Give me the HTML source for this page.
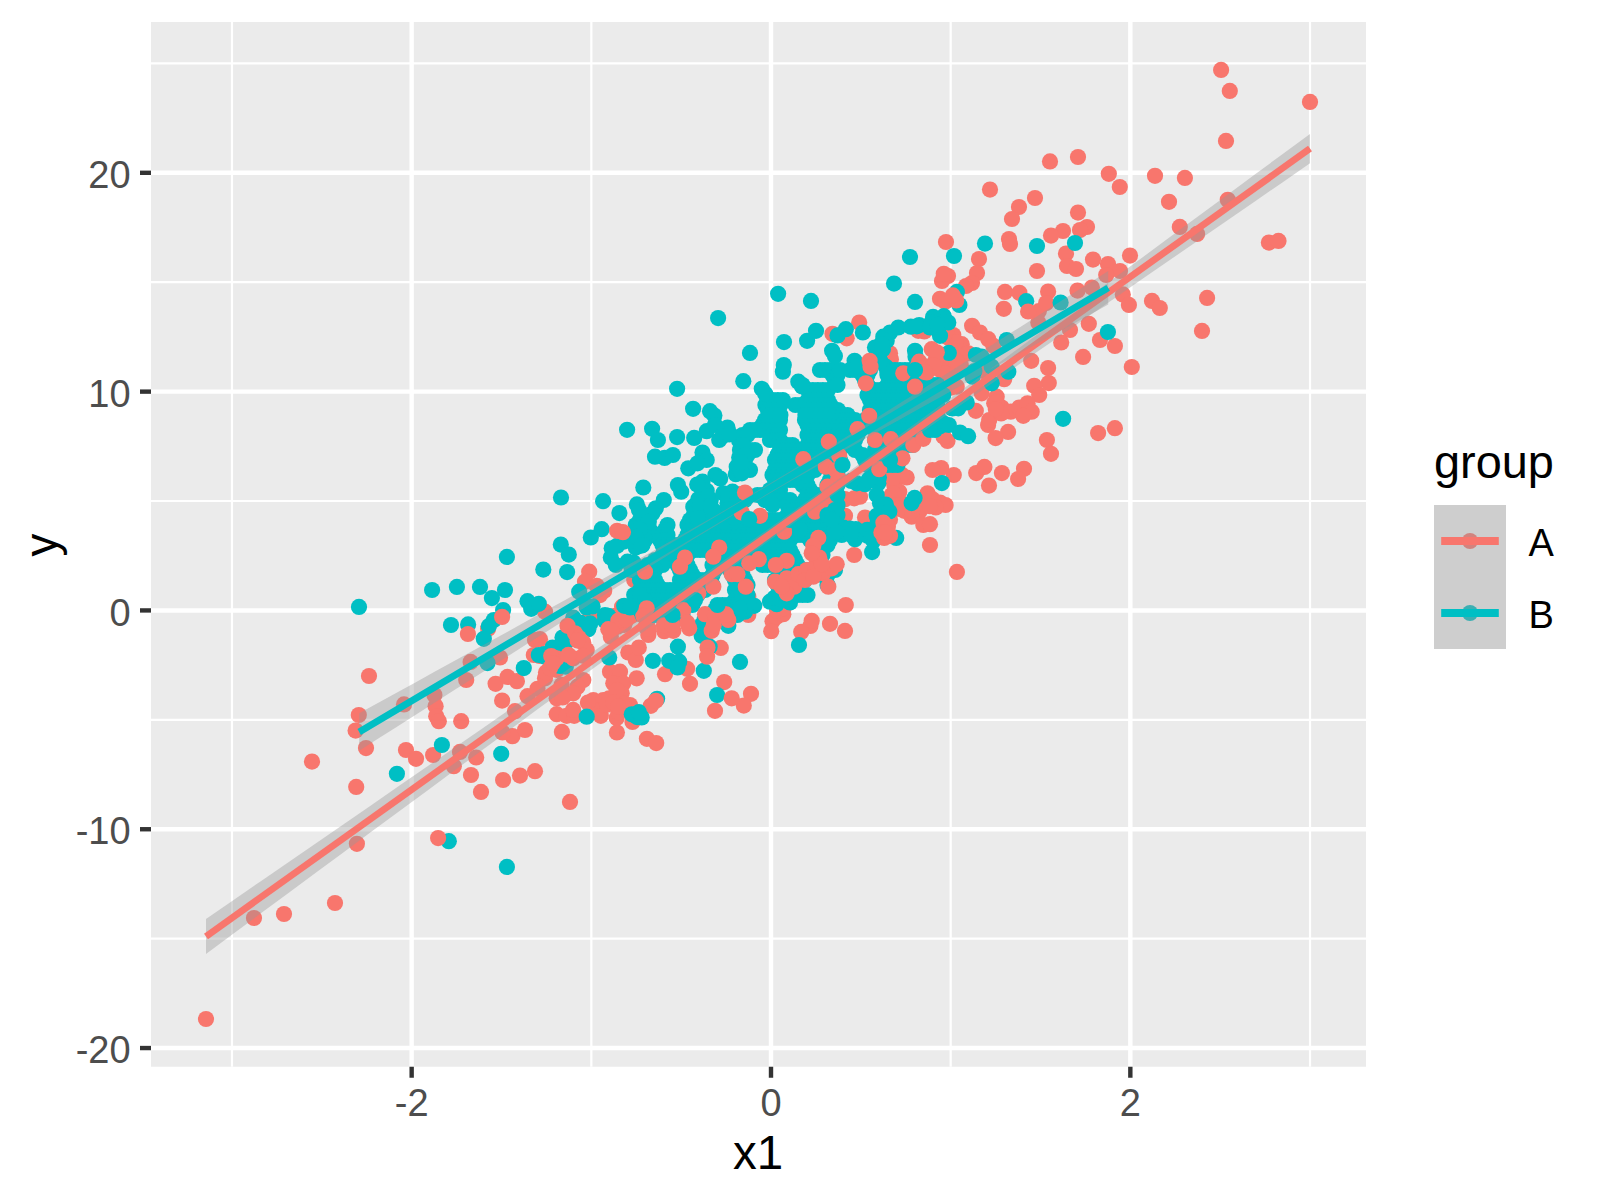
<!DOCTYPE html>
<html><head><meta charset="utf-8"><title>plot</title>
<style>html,body{margin:0;padding:0;background:#fff}svg{display:block}text{font-family:"Liberation Sans",sans-serif}</style>
</head><body>
<svg width="1600" height="1200" viewBox="0 0 1600 1200">
<rect width="1600" height="1200" fill="#fff"/>
<rect x="151" y="22" width="1215" height="1044.75" fill="#EBEBEB"/>
<g stroke="#fff" fill="none"><path d="M151 938.64H1366" stroke-width="2.2"/><path d="M151 719.83H1366" stroke-width="2.2"/><path d="M151 501.02H1366" stroke-width="2.2"/><path d="M151 282.21H1366" stroke-width="2.2"/><path d="M151 63.40H1366" stroke-width="2.2"/><path d="M231.99 22V1066.75" stroke-width="2.2"/><path d="M591.33 22V1066.75" stroke-width="2.2"/><path d="M950.67 22V1066.75" stroke-width="2.2"/><path d="M1310.01 22V1066.75" stroke-width="2.2"/><path d="M151 1048.05H1366" stroke-width="4.4"/><path d="M151 829.24H1366" stroke-width="4.4"/><path d="M151 610.43H1366" stroke-width="4.4"/><path d="M151 391.62H1366" stroke-width="4.4"/><path d="M151 172.81H1366" stroke-width="4.4"/><path d="M411.66 22V1066.75" stroke-width="4.4"/><path d="M771.00 22V1066.75" stroke-width="4.4"/><path d="M1130.34 22V1066.75" stroke-width="4.4"/></g>
<g fill="#F8766D"><circle cx="1221.1" cy="69.9" r="8.1"/><circle cx="1229.8" cy="90.9" r="8.1"/><circle cx="1310.0" cy="101.9" r="8.1"/><circle cx="1226.0" cy="140.9" r="8.1"/><circle cx="1108.8" cy="173.8" r="8.1"/><circle cx="1119.8" cy="187.0" r="8.1"/><circle cx="1155.0" cy="175.8" r="8.1"/><circle cx="1184.9" cy="177.9" r="8.1"/><circle cx="1169.0" cy="201.8" r="8.1"/><circle cx="1227.8" cy="199.8" r="8.1"/><circle cx="1179.8" cy="226.9" r="8.1"/><circle cx="1197.1" cy="233.9" r="8.1"/><circle cx="1268.9" cy="242.6" r="8.1"/><circle cx="1278.5" cy="240.9" r="8.1"/><circle cx="1050.0" cy="161.4" r="8.1"/><circle cx="1078.0" cy="157.0" r="8.1"/><circle cx="990.0" cy="189.6" r="8.1"/><circle cx="1035.0" cy="198.0" r="8.1"/><circle cx="1019.0" cy="207.0" r="8.1"/><circle cx="1012.0" cy="219.0" r="8.1"/><circle cx="1078.0" cy="212.6" r="8.1"/><circle cx="1087.0" cy="227.0" r="8.1"/><circle cx="1080.0" cy="230.0" r="8.1"/><circle cx="1063.0" cy="231.0" r="8.1"/><circle cx="1051.0" cy="235.6" r="8.1"/><circle cx="1009.0" cy="239.0" r="8.1"/><circle cx="1010.0" cy="244.0" r="8.1"/><circle cx="946.0" cy="242.0" r="8.1"/><circle cx="1066.0" cy="253.6" r="8.1"/><circle cx="1130.0" cy="255.6" r="8.1"/><circle cx="1093.0" cy="259.6" r="8.1"/><circle cx="1108.0" cy="264.0" r="8.1"/><circle cx="979.0" cy="259.0" r="8.1"/><circle cx="1067.0" cy="266.0" r="8.1"/><circle cx="1076.0" cy="269.0" r="8.1"/><circle cx="1037.0" cy="271.0" r="8.1"/><circle cx="1120.0" cy="271.0" r="8.1"/><circle cx="977.0" cy="273.0" r="8.1"/><circle cx="948.0" cy="276.0" r="8.1"/><circle cx="942.0" cy="281.0" r="8.1"/><circle cx="972.0" cy="283.0" r="8.1"/><circle cx="966.0" cy="286.0" r="8.1"/><circle cx="1122.8" cy="294.4" r="8.1"/><circle cx="1128.9" cy="304.9" r="8.1"/><circle cx="1152.0" cy="300.9" r="8.1"/><circle cx="1159.8" cy="308.0" r="8.1"/><circle cx="1207.1" cy="297.9" r="8.1"/><circle cx="1202.0" cy="330.9" r="8.1"/><circle cx="1114.9" cy="346.0" r="8.1"/><circle cx="1131.8" cy="367.0" r="8.1"/><circle cx="1114.9" cy="428.2" r="8.1"/><circle cx="943.8" cy="273.8" r="8.1"/><circle cx="1106.2" cy="275.0" r="8.1"/><circle cx="1005.0" cy="291.9" r="8.1"/><circle cx="1019.4" cy="292.8" r="8.1"/><circle cx="1048.1" cy="291.5" r="8.1"/><circle cx="1077.5" cy="290.6" r="8.1"/><circle cx="1091.9" cy="287.5" r="8.1"/><circle cx="1038.8" cy="311.2" r="8.1"/><circle cx="1046.2" cy="303.1" r="8.1"/><circle cx="1003.8" cy="308.8" r="8.1"/><circle cx="1088.8" cy="323.8" r="8.1"/><circle cx="1070.0" cy="330.0" r="8.1"/><circle cx="1061.2" cy="342.5" r="8.1"/><circle cx="1100.0" cy="340.0" r="8.1"/><circle cx="1083.1" cy="356.9" r="8.1"/><circle cx="1048.1" cy="368.1" r="8.1"/><circle cx="1048.8" cy="383.1" r="8.1"/><circle cx="940.0" cy="298.8" r="8.1"/><circle cx="940.0" cy="502.5" r="8.1"/><circle cx="988.1" cy="425.0" r="8.1"/><circle cx="1008.1" cy="431.9" r="8.1"/><circle cx="995.6" cy="438.1" r="8.1"/><circle cx="947.5" cy="441.0" r="8.1"/><circle cx="1046.9" cy="440.0" r="8.1"/><circle cx="1051.0" cy="453.8" r="8.1"/><circle cx="1098.1" cy="433.1" r="8.1"/><circle cx="976.2" cy="473.1" r="8.1"/><circle cx="984.4" cy="466.9" r="8.1"/><circle cx="1001.9" cy="473.1" r="8.1"/><circle cx="989.0" cy="485.6" r="8.1"/><circle cx="1024.0" cy="468.8" r="8.1"/><circle cx="1018.1" cy="479.0" r="8.1"/><circle cx="953.8" cy="475.0" r="8.1"/><circle cx="941.2" cy="468.1" r="8.1"/><circle cx="945.6" cy="505.0" r="8.1"/><circle cx="956.9" cy="571.9" r="8.1"/><circle cx="772.5" cy="621.2" r="8.1"/><circle cx="771.2" cy="631.2" r="8.1"/><circle cx="810.4" cy="626.0" r="8.1"/><circle cx="801.2" cy="631.9" r="8.1"/><circle cx="830.0" cy="623.8" r="8.1"/><circle cx="845.0" cy="630.9" r="8.1"/><circle cx="751.0" cy="693.8" r="8.1"/><circle cx="743.8" cy="705.6" r="8.1"/><circle cx="488.1" cy="628.8" r="8.1"/><circle cx="369.0" cy="676.0" r="8.1"/><circle cx="358.8" cy="715.0" r="8.1"/><circle cx="470.6" cy="661.9" r="8.1"/><circle cx="466.2" cy="680.0" r="8.1"/><circle cx="500.0" cy="657.5" r="8.1"/><circle cx="404.0" cy="704.4" r="8.1"/><circle cx="434.4" cy="695.0" r="8.1"/><circle cx="435.6" cy="706.2" r="8.1"/><circle cx="436.2" cy="716.2" r="8.1"/><circle cx="495.6" cy="683.8" r="8.1"/><circle cx="507.5" cy="676.9" r="8.1"/><circle cx="516.9" cy="681.2" r="8.1"/><circle cx="502.1" cy="700.6" r="8.1"/><circle cx="527.5" cy="696.2" r="8.1"/><circle cx="537.5" cy="688.8" r="8.1"/><circle cx="535.0" cy="640.0" r="8.1"/><circle cx="533.8" cy="655.0" r="8.1"/><circle cx="515.0" cy="711.2" r="8.1"/><circle cx="461.2" cy="721.2" r="8.1"/><circle cx="355.6" cy="730.6" r="8.1"/><circle cx="366.0" cy="748.1" r="8.1"/><circle cx="406.0" cy="750.0" r="8.1"/><circle cx="416.0" cy="758.8" r="8.1"/><circle cx="433.1" cy="755.0" r="8.1"/><circle cx="356.2" cy="786.9" r="8.1"/><circle cx="453.8" cy="766.2" r="8.1"/><circle cx="460.0" cy="751.9" r="8.1"/><circle cx="476.2" cy="757.5" r="8.1"/><circle cx="471.0" cy="775.0" r="8.1"/><circle cx="481.0" cy="791.9" r="8.1"/><circle cx="503.1" cy="780.0" r="8.1"/><circle cx="520.0" cy="775.6" r="8.1"/><circle cx="535.0" cy="771.2" r="8.1"/><circle cx="356.9" cy="843.8" r="8.1"/><circle cx="438.8" cy="721.2" r="8.1"/><circle cx="512.5" cy="736.2" r="8.1"/><circle cx="525.0" cy="730.0" r="8.1"/><circle cx="502.5" cy="732.5" r="8.1"/><circle cx="561.9" cy="731.9" r="8.1"/><circle cx="616.9" cy="732.5" r="8.1"/><circle cx="632.5" cy="721.9" r="8.1"/><circle cx="646.9" cy="738.8" r="8.1"/><circle cx="656.2" cy="743.1" r="8.1"/><circle cx="570.0" cy="801.9" r="8.1"/><circle cx="312.0" cy="761.6" r="8.1"/><circle cx="335.0" cy="903.0" r="8.1"/><circle cx="284.0" cy="914.0" r="8.1"/><circle cx="254.0" cy="918.0" r="8.1"/><circle cx="206.0" cy="1019.0" r="8.1"/><circle cx="846.7" cy="338.3" r="8.1"/><circle cx="859.2" cy="322.5" r="8.1"/><circle cx="890.0" cy="353.3" r="8.1"/><circle cx="918.3" cy="330.8" r="8.1"/><circle cx="931.7" cy="411.7" r="8.1"/><circle cx="938.3" cy="355.0" r="8.1"/><circle cx="739.6" cy="494.2" r="8.1"/><circle cx="814.2" cy="432.5" r="8.1"/><circle cx="890.0" cy="470.8" r="8.1"/><circle cx="906.7" cy="477.5" r="8.1"/><circle cx="894.2" cy="485.0" r="8.1"/><circle cx="891.7" cy="495.0" r="8.1"/><circle cx="899.2" cy="491.7" r="8.1"/><circle cx="901.7" cy="503.3" r="8.1"/><circle cx="904.2" cy="510.8" r="8.1"/><circle cx="927.5" cy="493.3" r="8.1"/><circle cx="932.5" cy="499.2" r="8.1"/><circle cx="919.2" cy="511.7" r="8.1"/><circle cx="911.7" cy="516.7" r="8.1"/><circle cx="935.8" cy="507.5" r="8.1"/><circle cx="845.0" cy="499.2" r="8.1"/><circle cx="860.0" cy="496.7" r="8.1"/><circle cx="845.0" cy="515.8" r="8.1"/><circle cx="865.0" cy="517.5" r="8.1"/><circle cx="850.8" cy="426.7" r="8.1"/><circle cx="890.0" cy="519.6" r="8.1"/><circle cx="589.2" cy="571.7" r="8.1"/><circle cx="585.0" cy="581.7" r="8.1"/><circle cx="634.2" cy="580.0" r="8.1"/><circle cx="622.1" cy="606.7" r="8.1"/><circle cx="631.7" cy="615.8" r="8.1"/><circle cx="590.0" cy="612.5" r="8.1"/><circle cx="545.0" cy="611.7" r="8.1"/><circle cx="604.2" cy="590.8" r="8.1"/><circle cx="596.7" cy="585.8" r="8.1"/><circle cx="639.2" cy="613.3" r="8.1"/><circle cx="615.0" cy="615.8" r="8.1"/><circle cx="739.6" cy="547.5" r="8.1"/><circle cx="733.3" cy="533.3" r="8.1"/><circle cx="653.3" cy="564.2" r="8.1"/><circle cx="748.3" cy="596.7" r="8.1"/><circle cx="776.7" cy="616.7" r="8.1"/><circle cx="783.3" cy="614.2" r="8.1"/><circle cx="748.3" cy="615.0" r="8.1"/><circle cx="811.7" cy="620.8" r="8.1"/><circle cx="810.8" cy="523.3" r="8.1"/><circle cx="758.3" cy="532.5" r="8.1"/><circle cx="854.2" cy="555.0" r="8.1"/><circle cx="845.8" cy="605.0" r="8.1"/><circle cx="930.0" cy="545.0" r="8.1"/><circle cx="923.3" cy="525.0" r="8.1"/><circle cx="930.0" cy="524.2" r="8.1"/><circle cx="545.0" cy="678.3" r="8.1"/><circle cx="556.7" cy="670.0" r="8.1"/><circle cx="628.3" cy="652.5" r="8.1"/><circle cx="635.8" cy="660.0" r="8.1"/><circle cx="638.8" cy="647.5" r="8.1"/><circle cx="610.0" cy="671.7" r="8.1"/><circle cx="620.0" cy="671.7" r="8.1"/><circle cx="613.3" cy="683.3" r="8.1"/><circle cx="623.3" cy="683.3" r="8.1"/><circle cx="621.7" cy="693.3" r="8.1"/><circle cx="636.7" cy="678.3" r="8.1"/><circle cx="583.3" cy="680.0" r="8.1"/><circle cx="577.5" cy="686.7" r="8.1"/><circle cx="565.0" cy="695.0" r="8.1"/><circle cx="560.8" cy="690.8" r="8.1"/><circle cx="573.3" cy="693.3" r="8.1"/><circle cx="556.7" cy="698.3" r="8.1"/><circle cx="593.3" cy="700.0" r="8.1"/><circle cx="603.3" cy="700.0" r="8.1"/><circle cx="595.0" cy="710.0" r="8.1"/><circle cx="609.2" cy="698.3" r="8.1"/><circle cx="556.7" cy="714.2" r="8.1"/><circle cx="566.7" cy="715.8" r="8.1"/><circle cx="574.2" cy="715.8" r="8.1"/><circle cx="616.7" cy="717.9" r="8.1"/><circle cx="630.0" cy="705.0" r="8.1"/><circle cx="623.3" cy="703.3" r="8.1"/><circle cx="540.0" cy="639.2" r="8.1"/><circle cx="600.8" cy="715.8" r="8.1"/></g>
<g fill="#00BFC4"><circle cx="565.8" cy="666.7" r="8.1"/></g>
<g fill="#F8766D"><circle cx="720.8" cy="647.9" r="8.1"/><circle cx="665.0" cy="674.2" r="8.1"/><circle cx="687.1" cy="668.8" r="8.1"/><circle cx="690.0" cy="683.8" r="8.1"/><circle cx="724.2" cy="682.1" r="8.1"/><circle cx="715.0" cy="710.8" r="8.1"/><circle cx="650.8" cy="705.8" r="8.1"/><circle cx="645.8" cy="626.7" r="8.1"/><circle cx="648.3" cy="635.0" r="8.1"/><circle cx="832.5" cy="333.8" r="8.1"/><circle cx="812.5" cy="406.7" r="8.1"/><circle cx="972.1" cy="325.8" r="8.1"/><circle cx="980.0" cy="332.5" r="8.1"/><circle cx="988.3" cy="339.2" r="8.1"/><circle cx="993.3" cy="345.8" r="8.1"/><circle cx="953.3" cy="335.0" r="8.1"/><circle cx="961.7" cy="344.2" r="8.1"/><circle cx="968.3" cy="353.3" r="8.1"/><circle cx="956.7" cy="355.0" r="8.1"/><circle cx="945.0" cy="366.7" r="8.1"/><circle cx="960.8" cy="365.0" r="8.1"/><circle cx="950.8" cy="373.3" r="8.1"/><circle cx="1031.2" cy="360.8" r="8.1"/><circle cx="1004.2" cy="379.2" r="8.1"/><circle cx="1034.2" cy="385.8" r="8.1"/><circle cx="1039.2" cy="395.0" r="8.1"/><circle cx="996.7" cy="396.7" r="8.1"/><circle cx="1001.7" cy="407.5" r="8.1"/><circle cx="1010.8" cy="411.7" r="8.1"/><circle cx="1019.2" cy="407.5" r="8.1"/><circle cx="1027.5" cy="403.3" r="8.1"/><circle cx="1031.7" cy="411.7" r="8.1"/><circle cx="1023.3" cy="415.8" r="8.1"/><circle cx="994.2" cy="403.3" r="8.1"/><circle cx="975.8" cy="410.8" r="8.1"/><circle cx="989.2" cy="420.0" r="8.1"/><circle cx="981.7" cy="393.3" r="8.1"/><circle cx="956.7" cy="386.7" r="8.1"/><circle cx="982.5" cy="370.8" r="8.1"/><circle cx="1038.3" cy="322.5" r="8.1"/><circle cx="946.7" cy="328.3" r="8.1"/><circle cx="945.2" cy="301.7" r="8.1"/><circle cx="943.5" cy="436.5" r="8.1"/><circle cx="539.7" cy="656.0" r="8.1"/><circle cx="890.9" cy="359.3" r="8.1"/><circle cx="924.3" cy="331.4" r="8.1"/><circle cx="941.1" cy="360.3" r="8.1"/><circle cx="742.7" cy="499.3" r="8.1"/><circle cx="888.3" cy="465.1" r="8.1"/><circle cx="901.5" cy="474.5" r="8.1"/><circle cx="892.3" cy="479.3" r="8.1"/><circle cx="892.4" cy="501.0" r="8.1"/><circle cx="893.5" cy="493.7" r="8.1"/><circle cx="896.0" cy="505.3" r="8.1"/><circle cx="898.6" cy="508.7" r="8.1"/><circle cx="923.0" cy="507.0" r="8.1"/><circle cx="912.1" cy="510.7" r="8.1"/><circle cx="930.0" cy="506.2" r="8.1"/><circle cx="839.1" cy="498.2" r="8.1"/><circle cx="854.2" cy="498.3" r="8.1"/><circle cx="839.0" cy="515.4" r="8.1"/><circle cx="870.2" cy="520.6" r="8.1"/><circle cx="885.4" cy="515.7" r="8.1"/><circle cx="640.1" cy="580.5" r="8.1"/><circle cx="628.0" cy="607.8" r="8.1"/><circle cx="637.0" cy="613.1" r="8.1"/><circle cx="593.9" cy="617.1" r="8.1"/><circle cx="600.0" cy="595.1" r="8.1"/><circle cx="643.4" cy="609.0" r="8.1"/><circle cx="619.9" cy="619.4" r="8.1"/><circle cx="777.1" cy="610.7" r="8.1"/><circle cx="783.7" cy="608.2" r="8.1"/><circle cx="743.5" cy="611.4" r="8.1"/><circle cx="546.0" cy="672.4" r="8.1"/><circle cx="555.4" cy="664.1" r="8.1"/><circle cx="616.7" cy="690.0" r="8.1"/><circle cx="561.6" cy="684.9" r="8.1"/><circle cx="562.6" cy="697.5" r="8.1"/><circle cx="587.9" cy="702.5" r="8.1"/><circle cx="607.0" cy="704.7" r="8.1"/><circle cx="613.4" cy="702.5" r="8.1"/><circle cx="573.1" cy="709.9" r="8.1"/><circle cx="618.6" cy="712.2" r="8.1"/><circle cx="625.7" cy="709.2" r="8.1"/><circle cx="618.2" cy="706.5" r="8.1"/></g>
<g fill="#00BFC4"><circle cx="559.9" cy="666.0" r="8.1"/></g>
<g fill="#F8766D"><circle cx="647.3" cy="620.8" r="8.1"/><circle cx="648.9" cy="629.0" r="8.1"/><circle cx="947.9" cy="337.6" r="8.1"/><circle cx="955.9" cy="342.6" r="8.1"/><circle cx="950.8" cy="353.8" r="8.1"/><circle cx="939.8" cy="369.7" r="8.1"/><circle cx="956.4" cy="360.9" r="8.1"/><circle cx="944.8" cy="373.7" r="8.1"/><circle cx="996.5" cy="402.7" r="8.1"/><circle cx="1001.1" cy="413.5" r="8.1"/><circle cx="995.8" cy="409.1" r="8.1"/><circle cx="950.7" cy="387.7" r="8.1"/><circle cx="988.0" cy="373.3" r="8.1"/><circle cx="944.7" cy="334.0" r="8.1"/></g>
<g fill="#00BFC4"><circle cx="985.0" cy="243.6" r="8.1"/><circle cx="1037.0" cy="246.0" r="8.1"/><circle cx="1075.0" cy="243.0" r="8.1"/><circle cx="910.0" cy="257.0" r="8.1"/><circle cx="954.0" cy="256.0" r="8.1"/><circle cx="894.0" cy="283.6" r="8.1"/><circle cx="956.9" cy="291.9" r="8.1"/><circle cx="959.4" cy="305.0" r="8.1"/><circle cx="1026.2" cy="301.2" r="8.1"/><circle cx="1060.6" cy="302.5" r="8.1"/><circle cx="943.8" cy="316.2" r="8.1"/><circle cx="1063.1" cy="418.8" r="8.1"/><circle cx="778.1" cy="293.8" r="8.1"/><circle cx="811.0" cy="300.9" r="8.1"/><circle cx="915.0" cy="301.9" r="8.1"/><circle cx="933.1" cy="316.9" r="8.1"/><circle cx="718.1" cy="318.1" r="8.1"/><circle cx="677.1" cy="388.8" r="8.1"/><circle cx="693.1" cy="408.8" r="8.1"/><circle cx="710.0" cy="411.2" r="8.1"/><circle cx="714.4" cy="415.6" r="8.1"/><circle cx="627.1" cy="429.8" r="8.1"/><circle cx="636.9" cy="504.4" r="8.1"/><circle cx="619.4" cy="513.1" r="8.1"/><circle cx="561.0" cy="497.5" r="8.1"/><circle cx="603.1" cy="501.2" r="8.1"/><circle cx="948.8" cy="425.0" r="8.1"/><circle cx="960.0" cy="432.5" r="8.1"/><circle cx="968.1" cy="436.2" r="8.1"/><circle cx="941.9" cy="483.1" r="8.1"/><circle cx="940.0" cy="426.2" r="8.1"/><circle cx="799.0" cy="645.0" r="8.1"/><circle cx="740.0" cy="661.9" r="8.1"/><circle cx="359.0" cy="606.9" r="8.1"/><circle cx="432.1" cy="590.0" r="8.1"/><circle cx="456.9" cy="586.9" r="8.1"/><circle cx="480.0" cy="586.9" r="8.1"/><circle cx="491.9" cy="598.1" r="8.1"/><circle cx="505.0" cy="590.0" r="8.1"/><circle cx="503.1" cy="610.0" r="8.1"/><circle cx="527.5" cy="601.2" r="8.1"/><circle cx="531.2" cy="608.8" r="8.1"/><circle cx="538.8" cy="603.8" r="8.1"/><circle cx="451.0" cy="625.0" r="8.1"/><circle cx="468.1" cy="624.4" r="8.1"/><circle cx="493.8" cy="620.0" r="8.1"/><circle cx="488.8" cy="626.2" r="8.1"/><circle cx="483.8" cy="638.8" r="8.1"/><circle cx="523.8" cy="668.1" r="8.1"/><circle cx="538.8" cy="655.0" r="8.1"/><circle cx="487.5" cy="663.1" r="8.1"/><circle cx="506.9" cy="556.9" r="8.1"/><circle cx="396.9" cy="773.8" r="8.1"/><circle cx="501.2" cy="753.8" r="8.1"/><circle cx="448.8" cy="841.2" r="8.1"/><circle cx="506.9" cy="866.9" r="8.1"/><circle cx="845.8" cy="329.2" r="8.1"/><circle cx="862.9" cy="332.5" r="8.1"/><circle cx="854.6" cy="360.8" r="8.1"/><circle cx="890.0" cy="332.5" r="8.1"/><circle cx="883.3" cy="336.7" r="8.1"/><circle cx="898.3" cy="327.5" r="8.1"/><circle cx="910.8" cy="326.7" r="8.1"/><circle cx="919.2" cy="325.0" r="8.1"/><circle cx="875.0" cy="347.5" r="8.1"/><circle cx="881.7" cy="343.3" r="8.1"/><circle cx="915.0" cy="350.8" r="8.1"/><circle cx="935.8" cy="328.3" r="8.1"/><circle cx="931.7" cy="322.5" r="8.1"/><circle cx="885.8" cy="366.7" r="8.1"/><circle cx="879.2" cy="355.0" r="8.1"/><circle cx="886.7" cy="340.8" r="8.1"/><circle cx="652.1" cy="428.8" r="8.1"/><circle cx="657.9" cy="440.0" r="8.1"/><circle cx="655.0" cy="456.7" r="8.1"/><circle cx="664.6" cy="457.9" r="8.1"/><circle cx="672.9" cy="455.0" r="8.1"/><circle cx="677.1" cy="437.1" r="8.1"/><circle cx="694.2" cy="437.9" r="8.1"/><circle cx="706.7" cy="431.2" r="8.1"/><circle cx="719.2" cy="440.0" r="8.1"/><circle cx="727.5" cy="427.5" r="8.1"/><circle cx="715.0" cy="425.0" r="8.1"/><circle cx="723.3" cy="434.2" r="8.1"/><circle cx="702.5" cy="452.5" r="8.1"/><circle cx="706.7" cy="460.0" r="8.1"/><circle cx="688.3" cy="468.3" r="8.1"/><circle cx="697.5" cy="463.3" r="8.1"/><circle cx="715.4" cy="475.0" r="8.1"/><circle cx="739.2" cy="440.8" r="8.1"/><circle cx="735.8" cy="474.2" r="8.1"/><circle cx="739.2" cy="457.5" r="8.1"/><circle cx="736.7" cy="466.7" r="8.1"/><circle cx="677.9" cy="485.0" r="8.1"/><circle cx="681.2" cy="491.7" r="8.1"/><circle cx="643.3" cy="487.5" r="8.1"/><circle cx="663.8" cy="500.0" r="8.1"/><circle cx="655.8" cy="508.3" r="8.1"/><circle cx="648.3" cy="515.8" r="8.1"/><circle cx="702.5" cy="481.7" r="8.1"/><circle cx="706.7" cy="490.8" r="8.1"/><circle cx="693.3" cy="506.7" r="8.1"/><circle cx="698.3" cy="499.2" r="8.1"/><circle cx="703.3" cy="511.7" r="8.1"/><circle cx="715.0" cy="511.7" r="8.1"/><circle cx="723.3" cy="493.3" r="8.1"/><circle cx="727.5" cy="503.3" r="8.1"/><circle cx="732.5" cy="491.7" r="8.1"/><circle cx="723.3" cy="515.8" r="8.1"/><circle cx="694.2" cy="513.3" r="8.1"/><circle cx="734.2" cy="511.7" r="8.1"/><circle cx="710.8" cy="500.0" r="8.1"/><circle cx="878.3" cy="483.3" r="8.1"/><circle cx="865.0" cy="484.2" r="8.1"/><circle cx="856.7" cy="483.3" r="8.1"/><circle cx="876.7" cy="495.0" r="8.1"/><circle cx="880.0" cy="503.3" r="8.1"/><circle cx="883.3" cy="511.7" r="8.1"/><circle cx="876.7" cy="515.8" r="8.1"/><circle cx="560.8" cy="544.6" r="8.1"/><circle cx="568.8" cy="554.6" r="8.1"/><circle cx="543.3" cy="569.6" r="8.1"/><circle cx="567.1" cy="572.1" r="8.1"/><circle cx="590.8" cy="537.5" r="8.1"/><circle cx="601.7" cy="529.2" r="8.1"/><circle cx="635.8" cy="525.0" r="8.1"/><circle cx="611.7" cy="548.3" r="8.1"/><circle cx="623.3" cy="541.7" r="8.1"/><circle cx="631.7" cy="540.8" r="8.1"/><circle cx="610.8" cy="557.5" r="8.1"/><circle cx="615.8" cy="565.0" r="8.1"/><circle cx="627.5" cy="561.7" r="8.1"/><circle cx="635.8" cy="547.5" r="8.1"/><circle cx="579.2" cy="591.7" r="8.1"/><circle cx="605.0" cy="615.0" r="8.1"/><circle cx="586.7" cy="607.5" r="8.1"/><circle cx="573.3" cy="617.5" r="8.1"/><circle cx="634.2" cy="595.0" r="8.1"/><circle cx="639.2" cy="601.7" r="8.1"/><circle cx="631.7" cy="570.0" r="8.1"/><circle cx="754.2" cy="605.8" r="8.1"/><circle cx="745.0" cy="611.7" r="8.1"/><circle cx="770.0" cy="601.7" r="8.1"/><circle cx="776.7" cy="604.2" r="8.1"/><circle cx="790.0" cy="602.5" r="8.1"/><circle cx="843.3" cy="527.5" r="8.1"/><circle cx="855.8" cy="529.2" r="8.1"/><circle cx="855.0" cy="539.2" r="8.1"/><circle cx="867.5" cy="535.8" r="8.1"/><circle cx="873.3" cy="540.8" r="8.1"/><circle cx="872.1" cy="552.1" r="8.1"/><circle cx="877.5" cy="525.0" r="8.1"/><circle cx="896.2" cy="537.9" r="8.1"/><circle cx="841.7" cy="535.0" r="8.1"/><circle cx="588.3" cy="629.2" r="8.1"/><circle cx="580.0" cy="622.5" r="8.1"/><circle cx="605.0" cy="620.8" r="8.1"/><circle cx="562.5" cy="637.5" r="8.1"/><circle cx="563.3" cy="646.7" r="8.1"/><circle cx="552.5" cy="647.5" r="8.1"/><circle cx="544.2" cy="654.2" r="8.1"/><circle cx="609.2" cy="657.5" r="8.1"/><circle cx="586.7" cy="716.7" r="8.1"/><circle cx="637.1" cy="717.1" r="8.1"/><circle cx="701.7" cy="625.0" r="8.1"/><circle cx="701.7" cy="635.8" r="8.1"/><circle cx="728.3" cy="625.8" r="8.1"/><circle cx="677.9" cy="646.7" r="8.1"/><circle cx="652.9" cy="660.8" r="8.1"/><circle cx="669.2" cy="660.8" r="8.1"/><circle cx="679.2" cy="661.7" r="8.1"/><circle cx="677.5" cy="667.5" r="8.1"/><circle cx="703.8" cy="670.8" r="8.1"/><circle cx="717.1" cy="695.0" r="8.1"/><circle cx="657.1" cy="698.8" r="8.1"/><circle cx="641.7" cy="717.5" r="8.1"/><circle cx="709.6" cy="646.7" r="8.1"/><circle cx="750.0" cy="352.9" r="8.1"/><circle cx="784.0" cy="342.1" r="8.1"/><circle cx="807.1" cy="340.8" r="8.1"/><circle cx="816.0" cy="330.8" r="8.1"/><circle cx="832.1" cy="350.8" r="8.1"/><circle cx="837.5" cy="335.4" r="8.1"/><circle cx="783.8" cy="365.0" r="8.1"/><circle cx="782.9" cy="371.7" r="8.1"/><circle cx="743.3" cy="381.2" r="8.1"/><circle cx="761.8" cy="388.8" r="8.1"/><circle cx="798.3" cy="381.7" r="8.1"/><circle cx="948.3" cy="322.5" r="8.1"/><circle cx="940.0" cy="335.8" r="8.1"/><circle cx="948.8" cy="352.9" r="8.1"/><circle cx="1006.7" cy="340.0" r="8.1"/><circle cx="981.7" cy="356.7" r="8.1"/><circle cx="991.7" cy="366.7" r="8.1"/><circle cx="972.5" cy="376.7" r="8.1"/><circle cx="1008.3" cy="371.7" r="8.1"/><circle cx="991.7" cy="383.3" r="8.1"/><circle cx="943.3" cy="395.0" r="8.1"/><circle cx="966.7" cy="402.5" r="8.1"/><circle cx="958.3" cy="408.3" r="8.1"/><circle cx="765.0" cy="420.0" r="8.1"/><circle cx="770.0" cy="420.0" r="8.1"/><circle cx="775.0" cy="420.0" r="8.1"/><circle cx="780.0" cy="420.0" r="8.1"/><circle cx="805.0" cy="420.0" r="8.1"/><circle cx="810.0" cy="420.0" r="8.1"/><circle cx="815.0" cy="420.0" r="8.1"/><circle cx="820.0" cy="420.0" r="8.1"/><circle cx="825.0" cy="420.0" r="8.1"/><circle cx="830.0" cy="420.0" r="8.1"/><circle cx="835.0" cy="420.0" r="8.1"/><circle cx="762.5" cy="425.0" r="8.1"/><circle cx="767.5" cy="425.0" r="8.1"/><circle cx="772.5" cy="425.0" r="8.1"/><circle cx="777.5" cy="425.0" r="8.1"/><circle cx="807.5" cy="425.0" r="8.1"/><circle cx="812.5" cy="425.0" r="8.1"/><circle cx="817.5" cy="425.0" r="8.1"/><circle cx="822.5" cy="425.0" r="8.1"/><circle cx="827.5" cy="425.0" r="8.1"/><circle cx="832.5" cy="425.0" r="8.1"/><circle cx="837.5" cy="425.0" r="8.1"/><circle cx="750.0" cy="430.0" r="8.1"/><circle cx="755.0" cy="430.0" r="8.1"/><circle cx="760.0" cy="430.0" r="8.1"/><circle cx="765.0" cy="430.0" r="8.1"/><circle cx="770.0" cy="430.0" r="8.1"/><circle cx="775.0" cy="430.0" r="8.1"/><circle cx="780.0" cy="430.0" r="8.1"/><circle cx="810.0" cy="430.0" r="8.1"/><circle cx="815.0" cy="430.0" r="8.1"/><circle cx="820.0" cy="430.0" r="8.1"/><circle cx="825.0" cy="430.0" r="8.1"/><circle cx="830.0" cy="430.0" r="8.1"/><circle cx="835.0" cy="430.0" r="8.1"/><circle cx="742.5" cy="435.0" r="8.1"/><circle cx="747.5" cy="435.0" r="8.1"/><circle cx="772.5" cy="435.0" r="8.1"/><circle cx="777.5" cy="435.0" r="8.1"/><circle cx="807.5" cy="435.0" r="8.1"/><circle cx="812.5" cy="435.0" r="8.1"/><circle cx="817.5" cy="435.0" r="8.1"/><circle cx="822.5" cy="435.0" r="8.1"/><circle cx="827.5" cy="435.0" r="8.1"/><circle cx="832.5" cy="435.0" r="8.1"/><circle cx="837.5" cy="435.0" r="8.1"/><circle cx="770.0" cy="440.0" r="8.1"/><circle cx="775.0" cy="440.0" r="8.1"/><circle cx="780.0" cy="440.0" r="8.1"/><circle cx="810.0" cy="440.0" r="8.1"/><circle cx="815.0" cy="440.0" r="8.1"/><circle cx="820.0" cy="440.0" r="8.1"/><circle cx="825.0" cy="440.0" r="8.1"/><circle cx="830.0" cy="440.0" r="8.1"/><circle cx="835.0" cy="440.0" r="8.1"/><circle cx="742.5" cy="445.0" r="8.1"/><circle cx="782.5" cy="445.0" r="8.1"/><circle cx="787.5" cy="445.0" r="8.1"/><circle cx="792.5" cy="445.0" r="8.1"/><circle cx="807.5" cy="445.0" r="8.1"/><circle cx="812.5" cy="445.0" r="8.1"/><circle cx="817.5" cy="445.0" r="8.1"/><circle cx="822.5" cy="445.0" r="8.1"/><circle cx="827.5" cy="445.0" r="8.1"/><circle cx="832.5" cy="445.0" r="8.1"/><circle cx="837.5" cy="445.0" r="8.1"/><circle cx="740.0" cy="450.0" r="8.1"/><circle cx="745.0" cy="450.0" r="8.1"/><circle cx="750.0" cy="450.0" r="8.1"/><circle cx="755.0" cy="450.0" r="8.1"/><circle cx="780.0" cy="450.0" r="8.1"/><circle cx="785.0" cy="450.0" r="8.1"/><circle cx="790.0" cy="450.0" r="8.1"/><circle cx="795.0" cy="450.0" r="8.1"/><circle cx="800.0" cy="450.0" r="8.1"/><circle cx="805.0" cy="450.0" r="8.1"/><circle cx="810.0" cy="450.0" r="8.1"/><circle cx="815.0" cy="450.0" r="8.1"/><circle cx="820.0" cy="450.0" r="8.1"/><circle cx="825.0" cy="450.0" r="8.1"/><circle cx="830.0" cy="450.0" r="8.1"/><circle cx="835.0" cy="450.0" r="8.1"/><circle cx="747.5" cy="455.0" r="8.1"/><circle cx="777.5" cy="455.0" r="8.1"/><circle cx="782.5" cy="455.0" r="8.1"/><circle cx="787.5" cy="455.0" r="8.1"/><circle cx="792.5" cy="455.0" r="8.1"/><circle cx="797.5" cy="455.0" r="8.1"/><circle cx="802.5" cy="455.0" r="8.1"/><circle cx="807.5" cy="455.0" r="8.1"/><circle cx="812.5" cy="455.0" r="8.1"/><circle cx="817.5" cy="455.0" r="8.1"/><circle cx="822.5" cy="455.0" r="8.1"/><circle cx="827.5" cy="455.0" r="8.1"/><circle cx="832.5" cy="455.0" r="8.1"/><circle cx="837.5" cy="455.0" r="8.1"/><circle cx="745.0" cy="460.0" r="8.1"/><circle cx="775.0" cy="460.0" r="8.1"/><circle cx="780.0" cy="460.0" r="8.1"/><circle cx="785.0" cy="460.0" r="8.1"/><circle cx="790.0" cy="460.0" r="8.1"/><circle cx="795.0" cy="460.0" r="8.1"/><circle cx="800.0" cy="460.0" r="8.1"/><circle cx="805.0" cy="460.0" r="8.1"/><circle cx="810.0" cy="460.0" r="8.1"/><circle cx="815.0" cy="460.0" r="8.1"/><circle cx="820.0" cy="460.0" r="8.1"/><circle cx="825.0" cy="460.0" r="8.1"/><circle cx="830.0" cy="460.0" r="8.1"/><circle cx="835.0" cy="460.0" r="8.1"/><circle cx="742.5" cy="465.0" r="8.1"/><circle cx="777.5" cy="465.0" r="8.1"/><circle cx="782.5" cy="465.0" r="8.1"/><circle cx="787.5" cy="465.0" r="8.1"/><circle cx="792.5" cy="465.0" r="8.1"/><circle cx="797.5" cy="465.0" r="8.1"/><circle cx="802.5" cy="465.0" r="8.1"/><circle cx="807.5" cy="465.0" r="8.1"/><circle cx="812.5" cy="465.0" r="8.1"/><circle cx="817.5" cy="465.0" r="8.1"/><circle cx="822.5" cy="465.0" r="8.1"/><circle cx="827.5" cy="465.0" r="8.1"/><circle cx="832.5" cy="465.0" r="8.1"/><circle cx="837.5" cy="465.0" r="8.1"/><circle cx="740.0" cy="470.0" r="8.1"/><circle cx="745.0" cy="470.0" r="8.1"/><circle cx="750.0" cy="470.0" r="8.1"/><circle cx="775.0" cy="470.0" r="8.1"/><circle cx="780.0" cy="470.0" r="8.1"/><circle cx="785.0" cy="470.0" r="8.1"/><circle cx="790.0" cy="470.0" r="8.1"/><circle cx="795.0" cy="470.0" r="8.1"/><circle cx="800.0" cy="470.0" r="8.1"/><circle cx="805.0" cy="470.0" r="8.1"/><circle cx="810.0" cy="470.0" r="8.1"/><circle cx="815.0" cy="470.0" r="8.1"/><circle cx="830.0" cy="470.0" r="8.1"/><circle cx="835.0" cy="470.0" r="8.1"/><circle cx="772.5" cy="475.0" r="8.1"/><circle cx="777.5" cy="475.0" r="8.1"/><circle cx="782.5" cy="475.0" r="8.1"/><circle cx="787.5" cy="475.0" r="8.1"/><circle cx="792.5" cy="475.0" r="8.1"/><circle cx="797.5" cy="475.0" r="8.1"/><circle cx="802.5" cy="475.0" r="8.1"/><circle cx="807.5" cy="475.0" r="8.1"/><circle cx="832.5" cy="475.0" r="8.1"/><circle cx="837.5" cy="475.0" r="8.1"/><circle cx="775.0" cy="480.0" r="8.1"/><circle cx="780.0" cy="480.0" r="8.1"/><circle cx="785.0" cy="480.0" r="8.1"/><circle cx="790.0" cy="480.0" r="8.1"/><circle cx="795.0" cy="480.0" r="8.1"/><circle cx="800.0" cy="480.0" r="8.1"/><circle cx="805.0" cy="480.0" r="8.1"/><circle cx="830.0" cy="480.0" r="8.1"/><circle cx="835.0" cy="480.0" r="8.1"/><circle cx="777.5" cy="485.0" r="8.1"/><circle cx="802.5" cy="485.0" r="8.1"/><circle cx="807.5" cy="485.0" r="8.1"/><circle cx="827.5" cy="485.0" r="8.1"/><circle cx="832.5" cy="485.0" r="8.1"/><circle cx="837.5" cy="485.0" r="8.1"/><circle cx="770.0" cy="490.0" r="8.1"/><circle cx="775.0" cy="490.0" r="8.1"/><circle cx="780.0" cy="490.0" r="8.1"/><circle cx="810.0" cy="490.0" r="8.1"/><circle cx="830.0" cy="490.0" r="8.1"/><circle cx="835.0" cy="490.0" r="8.1"/><circle cx="742.5" cy="495.0" r="8.1"/><circle cx="747.5" cy="495.0" r="8.1"/><circle cx="757.5" cy="495.0" r="8.1"/><circle cx="762.5" cy="495.0" r="8.1"/><circle cx="767.5" cy="495.0" r="8.1"/><circle cx="772.5" cy="495.0" r="8.1"/><circle cx="777.5" cy="495.0" r="8.1"/><circle cx="807.5" cy="495.0" r="8.1"/><circle cx="812.5" cy="495.0" r="8.1"/><circle cx="817.5" cy="495.0" r="8.1"/><circle cx="822.5" cy="495.0" r="8.1"/><circle cx="827.5" cy="495.0" r="8.1"/><circle cx="832.5" cy="495.0" r="8.1"/><circle cx="740.0" cy="500.0" r="8.1"/><circle cx="745.0" cy="500.0" r="8.1"/><circle cx="765.0" cy="500.0" r="8.1"/><circle cx="770.0" cy="500.0" r="8.1"/><circle cx="775.0" cy="500.0" r="8.1"/><circle cx="780.0" cy="500.0" r="8.1"/><circle cx="785.0" cy="500.0" r="8.1"/><circle cx="790.0" cy="500.0" r="8.1"/><circle cx="805.0" cy="500.0" r="8.1"/><circle cx="810.0" cy="500.0" r="8.1"/><circle cx="815.0" cy="500.0" r="8.1"/><circle cx="820.0" cy="500.0" r="8.1"/><circle cx="825.0" cy="500.0" r="8.1"/><circle cx="830.0" cy="500.0" r="8.1"/><circle cx="835.0" cy="500.0" r="8.1"/><circle cx="772.5" cy="505.0" r="8.1"/><circle cx="787.5" cy="505.0" r="8.1"/><circle cx="792.5" cy="505.0" r="8.1"/><circle cx="797.5" cy="505.0" r="8.1"/><circle cx="802.5" cy="505.0" r="8.1"/><circle cx="807.5" cy="505.0" r="8.1"/><circle cx="812.5" cy="505.0" r="8.1"/><circle cx="817.5" cy="505.0" r="8.1"/><circle cx="822.5" cy="505.0" r="8.1"/><circle cx="827.5" cy="505.0" r="8.1"/><circle cx="832.5" cy="505.0" r="8.1"/><circle cx="837.5" cy="505.0" r="8.1"/><circle cx="740.0" cy="510.0" r="8.1"/><circle cx="790.0" cy="510.0" r="8.1"/><circle cx="795.0" cy="510.0" r="8.1"/><circle cx="800.0" cy="510.0" r="8.1"/><circle cx="805.0" cy="510.0" r="8.1"/><circle cx="810.0" cy="510.0" r="8.1"/><circle cx="815.0" cy="510.0" r="8.1"/><circle cx="820.0" cy="510.0" r="8.1"/><circle cx="825.0" cy="510.0" r="8.1"/><circle cx="830.0" cy="510.0" r="8.1"/><circle cx="742.5" cy="515.0" r="8.1"/><circle cx="787.5" cy="515.0" r="8.1"/><circle cx="792.5" cy="515.0" r="8.1"/><circle cx="797.5" cy="515.0" r="8.1"/><circle cx="802.5" cy="515.0" r="8.1"/><circle cx="807.5" cy="515.0" r="8.1"/><circle cx="812.5" cy="515.0" r="8.1"/><circle cx="817.5" cy="515.0" r="8.1"/><circle cx="822.5" cy="515.0" r="8.1"/><circle cx="832.5" cy="515.0" r="8.1"/><circle cx="837.5" cy="515.0" r="8.1"/><circle cx="640.0" cy="520.0" r="8.1"/><circle cx="645.0" cy="520.0" r="8.1"/><circle cx="690.0" cy="520.0" r="8.1"/><circle cx="695.0" cy="520.0" r="8.1"/><circle cx="700.0" cy="520.0" r="8.1"/><circle cx="705.0" cy="520.0" r="8.1"/><circle cx="710.0" cy="520.0" r="8.1"/><circle cx="715.0" cy="520.0" r="8.1"/><circle cx="720.0" cy="520.0" r="8.1"/><circle cx="730.0" cy="520.0" r="8.1"/><circle cx="735.0" cy="520.0" r="8.1"/><circle cx="642.5" cy="525.0" r="8.1"/><circle cx="647.5" cy="525.0" r="8.1"/><circle cx="667.5" cy="525.0" r="8.1"/><circle cx="687.5" cy="525.0" r="8.1"/><circle cx="692.5" cy="525.0" r="8.1"/><circle cx="697.5" cy="525.0" r="8.1"/><circle cx="702.5" cy="525.0" r="8.1"/><circle cx="707.5" cy="525.0" r="8.1"/><circle cx="712.5" cy="525.0" r="8.1"/><circle cx="717.5" cy="525.0" r="8.1"/><circle cx="722.5" cy="525.0" r="8.1"/><circle cx="727.5" cy="525.0" r="8.1"/><circle cx="732.5" cy="525.0" r="8.1"/><circle cx="737.5" cy="525.0" r="8.1"/><circle cx="640.0" cy="530.0" r="8.1"/><circle cx="645.0" cy="530.0" r="8.1"/><circle cx="650.0" cy="530.0" r="8.1"/><circle cx="665.0" cy="530.0" r="8.1"/><circle cx="690.0" cy="530.0" r="8.1"/><circle cx="695.0" cy="530.0" r="8.1"/><circle cx="700.0" cy="530.0" r="8.1"/><circle cx="705.0" cy="530.0" r="8.1"/><circle cx="710.0" cy="530.0" r="8.1"/><circle cx="715.0" cy="530.0" r="8.1"/><circle cx="720.0" cy="530.0" r="8.1"/><circle cx="725.0" cy="530.0" r="8.1"/><circle cx="730.0" cy="530.0" r="8.1"/><circle cx="735.0" cy="530.0" r="8.1"/><circle cx="642.5" cy="535.0" r="8.1"/><circle cx="647.5" cy="535.0" r="8.1"/><circle cx="652.5" cy="535.0" r="8.1"/><circle cx="657.5" cy="535.0" r="8.1"/><circle cx="662.5" cy="535.0" r="8.1"/><circle cx="667.5" cy="535.0" r="8.1"/><circle cx="687.5" cy="535.0" r="8.1"/><circle cx="692.5" cy="535.0" r="8.1"/><circle cx="697.5" cy="535.0" r="8.1"/><circle cx="702.5" cy="535.0" r="8.1"/><circle cx="707.5" cy="535.0" r="8.1"/><circle cx="712.5" cy="535.0" r="8.1"/><circle cx="717.5" cy="535.0" r="8.1"/><circle cx="722.5" cy="535.0" r="8.1"/><circle cx="727.5" cy="535.0" r="8.1"/><circle cx="732.5" cy="535.0" r="8.1"/><circle cx="737.5" cy="535.0" r="8.1"/><circle cx="640.0" cy="540.0" r="8.1"/><circle cx="645.0" cy="540.0" r="8.1"/><circle cx="660.0" cy="540.0" r="8.1"/><circle cx="665.0" cy="540.0" r="8.1"/><circle cx="685.0" cy="540.0" r="8.1"/><circle cx="690.0" cy="540.0" r="8.1"/><circle cx="695.0" cy="540.0" r="8.1"/><circle cx="700.0" cy="540.0" r="8.1"/><circle cx="705.0" cy="540.0" r="8.1"/><circle cx="710.0" cy="540.0" r="8.1"/><circle cx="715.0" cy="540.0" r="8.1"/><circle cx="720.0" cy="540.0" r="8.1"/><circle cx="725.0" cy="540.0" r="8.1"/><circle cx="730.0" cy="540.0" r="8.1"/><circle cx="735.0" cy="540.0" r="8.1"/><circle cx="642.5" cy="545.0" r="8.1"/><circle cx="662.5" cy="545.0" r="8.1"/><circle cx="667.5" cy="545.0" r="8.1"/><circle cx="672.5" cy="545.0" r="8.1"/><circle cx="677.5" cy="545.0" r="8.1"/><circle cx="682.5" cy="545.0" r="8.1"/><circle cx="687.5" cy="545.0" r="8.1"/><circle cx="692.5" cy="545.0" r="8.1"/><circle cx="697.5" cy="545.0" r="8.1"/><circle cx="702.5" cy="545.0" r="8.1"/><circle cx="707.5" cy="545.0" r="8.1"/><circle cx="712.5" cy="545.0" r="8.1"/><circle cx="717.5" cy="545.0" r="8.1"/><circle cx="722.5" cy="545.0" r="8.1"/><circle cx="727.5" cy="545.0" r="8.1"/><circle cx="732.5" cy="545.0" r="8.1"/><circle cx="737.5" cy="545.0" r="8.1"/><circle cx="665.0" cy="550.0" r="8.1"/><circle cx="670.0" cy="550.0" r="8.1"/><circle cx="675.0" cy="550.0" r="8.1"/><circle cx="680.0" cy="550.0" r="8.1"/><circle cx="685.0" cy="550.0" r="8.1"/><circle cx="690.0" cy="550.0" r="8.1"/><circle cx="695.0" cy="550.0" r="8.1"/><circle cx="700.0" cy="550.0" r="8.1"/><circle cx="705.0" cy="550.0" r="8.1"/><circle cx="710.0" cy="550.0" r="8.1"/><circle cx="715.0" cy="550.0" r="8.1"/><circle cx="720.0" cy="550.0" r="8.1"/><circle cx="725.0" cy="550.0" r="8.1"/><circle cx="730.0" cy="550.0" r="8.1"/><circle cx="735.0" cy="550.0" r="8.1"/><circle cx="662.5" cy="555.0" r="8.1"/><circle cx="667.5" cy="555.0" r="8.1"/><circle cx="672.5" cy="555.0" r="8.1"/><circle cx="677.5" cy="555.0" r="8.1"/><circle cx="682.5" cy="555.0" r="8.1"/><circle cx="687.5" cy="555.0" r="8.1"/><circle cx="712.5" cy="555.0" r="8.1"/><circle cx="717.5" cy="555.0" r="8.1"/><circle cx="722.5" cy="555.0" r="8.1"/><circle cx="727.5" cy="555.0" r="8.1"/><circle cx="732.5" cy="555.0" r="8.1"/><circle cx="737.5" cy="555.0" r="8.1"/><circle cx="655.0" cy="560.0" r="8.1"/><circle cx="660.0" cy="560.0" r="8.1"/><circle cx="665.0" cy="560.0" r="8.1"/><circle cx="670.0" cy="560.0" r="8.1"/><circle cx="675.0" cy="560.0" r="8.1"/><circle cx="680.0" cy="560.0" r="8.1"/><circle cx="685.0" cy="560.0" r="8.1"/><circle cx="715.0" cy="560.0" r="8.1"/><circle cx="720.0" cy="560.0" r="8.1"/><circle cx="725.0" cy="560.0" r="8.1"/><circle cx="730.0" cy="560.0" r="8.1"/><circle cx="735.0" cy="560.0" r="8.1"/><circle cx="647.5" cy="565.0" r="8.1"/><circle cx="652.5" cy="565.0" r="8.1"/><circle cx="657.5" cy="565.0" r="8.1"/><circle cx="662.5" cy="565.0" r="8.1"/><circle cx="677.5" cy="565.0" r="8.1"/><circle cx="682.5" cy="565.0" r="8.1"/><circle cx="687.5" cy="565.0" r="8.1"/><circle cx="712.5" cy="565.0" r="8.1"/><circle cx="717.5" cy="565.0" r="8.1"/><circle cx="722.5" cy="565.0" r="8.1"/><circle cx="727.5" cy="565.0" r="8.1"/><circle cx="732.5" cy="565.0" r="8.1"/><circle cx="737.5" cy="565.0" r="8.1"/><circle cx="640.0" cy="570.0" r="8.1"/><circle cx="645.0" cy="570.0" r="8.1"/><circle cx="650.0" cy="570.0" r="8.1"/><circle cx="655.0" cy="570.0" r="8.1"/><circle cx="680.0" cy="570.0" r="8.1"/><circle cx="685.0" cy="570.0" r="8.1"/><circle cx="690.0" cy="570.0" r="8.1"/><circle cx="715.0" cy="570.0" r="8.1"/><circle cx="730.0" cy="570.0" r="8.1"/><circle cx="735.0" cy="570.0" r="8.1"/><circle cx="642.5" cy="575.0" r="8.1"/><circle cx="647.5" cy="575.0" r="8.1"/><circle cx="652.5" cy="575.0" r="8.1"/><circle cx="682.5" cy="575.0" r="8.1"/><circle cx="687.5" cy="575.0" r="8.1"/><circle cx="692.5" cy="575.0" r="8.1"/><circle cx="712.5" cy="575.0" r="8.1"/><circle cx="732.5" cy="575.0" r="8.1"/><circle cx="737.5" cy="575.0" r="8.1"/><circle cx="640.0" cy="580.0" r="8.1"/><circle cx="645.0" cy="580.0" r="8.1"/><circle cx="650.0" cy="580.0" r="8.1"/><circle cx="655.0" cy="580.0" r="8.1"/><circle cx="680.0" cy="580.0" r="8.1"/><circle cx="685.0" cy="580.0" r="8.1"/><circle cx="690.0" cy="580.0" r="8.1"/><circle cx="695.0" cy="580.0" r="8.1"/><circle cx="700.0" cy="580.0" r="8.1"/><circle cx="705.0" cy="580.0" r="8.1"/><circle cx="710.0" cy="580.0" r="8.1"/><circle cx="735.0" cy="580.0" r="8.1"/><circle cx="642.5" cy="585.0" r="8.1"/><circle cx="647.5" cy="585.0" r="8.1"/><circle cx="652.5" cy="585.0" r="8.1"/><circle cx="657.5" cy="585.0" r="8.1"/><circle cx="682.5" cy="585.0" r="8.1"/><circle cx="687.5" cy="585.0" r="8.1"/><circle cx="692.5" cy="585.0" r="8.1"/><circle cx="697.5" cy="585.0" r="8.1"/><circle cx="702.5" cy="585.0" r="8.1"/><circle cx="707.5" cy="585.0" r="8.1"/><circle cx="712.5" cy="585.0" r="8.1"/><circle cx="737.5" cy="585.0" r="8.1"/><circle cx="640.0" cy="590.0" r="8.1"/><circle cx="645.0" cy="590.0" r="8.1"/><circle cx="650.0" cy="590.0" r="8.1"/><circle cx="655.0" cy="590.0" r="8.1"/><circle cx="660.0" cy="590.0" r="8.1"/><circle cx="665.0" cy="590.0" r="8.1"/><circle cx="670.0" cy="590.0" r="8.1"/><circle cx="675.0" cy="590.0" r="8.1"/><circle cx="680.0" cy="590.0" r="8.1"/><circle cx="685.0" cy="590.0" r="8.1"/><circle cx="690.0" cy="590.0" r="8.1"/><circle cx="695.0" cy="590.0" r="8.1"/><circle cx="700.0" cy="590.0" r="8.1"/><circle cx="705.0" cy="590.0" r="8.1"/><circle cx="735.0" cy="590.0" r="8.1"/><circle cx="642.5" cy="595.0" r="8.1"/><circle cx="647.5" cy="595.0" r="8.1"/><circle cx="652.5" cy="595.0" r="8.1"/><circle cx="657.5" cy="595.0" r="8.1"/><circle cx="662.5" cy="595.0" r="8.1"/><circle cx="667.5" cy="595.0" r="8.1"/><circle cx="672.5" cy="595.0" r="8.1"/><circle cx="677.5" cy="595.0" r="8.1"/><circle cx="682.5" cy="595.0" r="8.1"/><circle cx="687.5" cy="595.0" r="8.1"/><circle cx="692.5" cy="595.0" r="8.1"/><circle cx="697.5" cy="595.0" r="8.1"/><circle cx="737.5" cy="595.0" r="8.1"/><circle cx="645.0" cy="600.0" r="8.1"/><circle cx="650.0" cy="600.0" r="8.1"/><circle cx="655.0" cy="600.0" r="8.1"/><circle cx="660.0" cy="600.0" r="8.1"/><circle cx="665.0" cy="600.0" r="8.1"/><circle cx="670.0" cy="600.0" r="8.1"/><circle cx="675.0" cy="600.0" r="8.1"/><circle cx="680.0" cy="600.0" r="8.1"/><circle cx="685.0" cy="600.0" r="8.1"/><circle cx="690.0" cy="600.0" r="8.1"/><circle cx="735.0" cy="600.0" r="8.1"/><circle cx="642.5" cy="605.0" r="8.1"/><circle cx="647.5" cy="605.0" r="8.1"/><circle cx="652.5" cy="605.0" r="8.1"/><circle cx="657.5" cy="605.0" r="8.1"/><circle cx="662.5" cy="605.0" r="8.1"/><circle cx="667.5" cy="605.0" r="8.1"/><circle cx="672.5" cy="605.0" r="8.1"/><circle cx="677.5" cy="605.0" r="8.1"/><circle cx="682.5" cy="605.0" r="8.1"/><circle cx="687.5" cy="605.0" r="8.1"/><circle cx="692.5" cy="605.0" r="8.1"/><circle cx="722.5" cy="605.0" r="8.1"/><circle cx="727.5" cy="605.0" r="8.1"/><circle cx="732.5" cy="605.0" r="8.1"/><circle cx="737.5" cy="605.0" r="8.1"/><circle cx="640.0" cy="610.0" r="8.1"/><circle cx="645.0" cy="610.0" r="8.1"/><circle cx="650.0" cy="610.0" r="8.1"/><circle cx="655.0" cy="610.0" r="8.1"/><circle cx="660.0" cy="610.0" r="8.1"/><circle cx="665.0" cy="610.0" r="8.1"/><circle cx="670.0" cy="610.0" r="8.1"/><circle cx="675.0" cy="610.0" r="8.1"/><circle cx="680.0" cy="610.0" r="8.1"/><circle cx="715.0" cy="610.0" r="8.1"/><circle cx="720.0" cy="610.0" r="8.1"/><circle cx="725.0" cy="610.0" r="8.1"/><circle cx="730.0" cy="610.0" r="8.1"/><circle cx="735.0" cy="610.0" r="8.1"/><circle cx="642.5" cy="615.0" r="8.1"/><circle cx="647.5" cy="615.0" r="8.1"/><circle cx="652.5" cy="615.0" r="8.1"/><circle cx="657.5" cy="615.0" r="8.1"/><circle cx="662.5" cy="615.0" r="8.1"/><circle cx="667.5" cy="615.0" r="8.1"/><circle cx="677.5" cy="615.0" r="8.1"/><circle cx="682.5" cy="615.0" r="8.1"/><circle cx="707.5" cy="615.0" r="8.1"/><circle cx="712.5" cy="615.0" r="8.1"/><circle cx="717.5" cy="615.0" r="8.1"/><circle cx="722.5" cy="615.0" r="8.1"/><circle cx="727.5" cy="615.0" r="8.1"/><circle cx="732.5" cy="615.0" r="8.1"/><circle cx="737.5" cy="615.0" r="8.1"/><circle cx="807.9" cy="390.0" r="8.1"/><circle cx="812.9" cy="390.0" r="8.1"/><circle cx="817.9" cy="390.0" r="8.1"/><circle cx="822.9" cy="390.0" r="8.1"/><circle cx="827.9" cy="390.0" r="8.1"/><circle cx="810.4" cy="395.0" r="8.1"/><circle cx="815.4" cy="395.0" r="8.1"/><circle cx="820.4" cy="395.0" r="8.1"/><circle cx="825.4" cy="395.0" r="8.1"/><circle cx="767.9" cy="400.0" r="8.1"/><circle cx="772.9" cy="400.0" r="8.1"/><circle cx="777.9" cy="400.0" r="8.1"/><circle cx="782.9" cy="400.0" r="8.1"/><circle cx="807.9" cy="400.0" r="8.1"/><circle cx="812.9" cy="400.0" r="8.1"/><circle cx="817.9" cy="400.0" r="8.1"/><circle cx="822.9" cy="400.0" r="8.1"/><circle cx="827.9" cy="400.0" r="8.1"/><circle cx="765.4" cy="405.0" r="8.1"/><circle cx="770.4" cy="405.0" r="8.1"/><circle cx="775.4" cy="405.0" r="8.1"/><circle cx="780.4" cy="405.0" r="8.1"/><circle cx="795.4" cy="405.0" r="8.1"/><circle cx="800.4" cy="405.0" r="8.1"/><circle cx="805.4" cy="405.0" r="8.1"/><circle cx="810.4" cy="405.0" r="8.1"/><circle cx="815.4" cy="405.0" r="8.1"/><circle cx="820.4" cy="405.0" r="8.1"/><circle cx="825.4" cy="405.0" r="8.1"/><circle cx="830.4" cy="405.0" r="8.1"/><circle cx="767.9" cy="410.0" r="8.1"/><circle cx="772.9" cy="410.0" r="8.1"/><circle cx="777.9" cy="410.0" r="8.1"/><circle cx="807.9" cy="410.0" r="8.1"/><circle cx="812.9" cy="410.0" r="8.1"/><circle cx="817.9" cy="410.0" r="8.1"/><circle cx="822.9" cy="410.0" r="8.1"/><circle cx="827.9" cy="410.0" r="8.1"/><circle cx="832.9" cy="410.0" r="8.1"/><circle cx="837.9" cy="410.0" r="8.1"/><circle cx="770.4" cy="415.0" r="8.1"/><circle cx="775.4" cy="415.0" r="8.1"/><circle cx="780.4" cy="415.0" r="8.1"/><circle cx="805.4" cy="415.0" r="8.1"/><circle cx="810.4" cy="415.0" r="8.1"/><circle cx="815.4" cy="415.0" r="8.1"/><circle cx="820.4" cy="415.0" r="8.1"/><circle cx="825.4" cy="415.0" r="8.1"/><circle cx="830.4" cy="415.0" r="8.1"/><circle cx="835.4" cy="415.0" r="8.1"/><circle cx="820.0" cy="370.0" r="8.1"/><circle cx="825.0" cy="370.0" r="8.1"/><circle cx="830.0" cy="370.0" r="8.1"/><circle cx="835.0" cy="370.0" r="8.1"/><circle cx="832.5" cy="375.0" r="8.1"/><circle cx="837.5" cy="375.0" r="8.1"/><circle cx="835.0" cy="380.0" r="8.1"/><circle cx="802.5" cy="385.0" r="8.1"/><circle cx="837.5" cy="385.0" r="8.1"/><circle cx="840.0" cy="370.0" r="8.1"/><circle cx="850.0" cy="370.0" r="8.1"/><circle cx="855.0" cy="370.0" r="8.1"/><circle cx="860.0" cy="370.0" r="8.1"/><circle cx="865.0" cy="370.0" r="8.1"/><circle cx="870.0" cy="370.0" r="8.1"/><circle cx="890.0" cy="370.0" r="8.1"/><circle cx="895.0" cy="370.0" r="8.1"/><circle cx="900.0" cy="370.0" r="8.1"/><circle cx="905.0" cy="370.0" r="8.1"/><circle cx="910.0" cy="370.0" r="8.1"/><circle cx="920.0" cy="370.0" r="8.1"/><circle cx="862.5" cy="375.0" r="8.1"/><circle cx="867.5" cy="375.0" r="8.1"/><circle cx="887.5" cy="375.0" r="8.1"/><circle cx="892.5" cy="375.0" r="8.1"/><circle cx="897.5" cy="375.0" r="8.1"/><circle cx="902.5" cy="375.0" r="8.1"/><circle cx="907.5" cy="375.0" r="8.1"/><circle cx="912.5" cy="375.0" r="8.1"/><circle cx="917.5" cy="375.0" r="8.1"/><circle cx="865.0" cy="380.0" r="8.1"/><circle cx="890.0" cy="380.0" r="8.1"/><circle cx="895.0" cy="380.0" r="8.1"/><circle cx="900.0" cy="380.0" r="8.1"/><circle cx="905.0" cy="380.0" r="8.1"/><circle cx="910.0" cy="380.0" r="8.1"/><circle cx="915.0" cy="380.0" r="8.1"/><circle cx="920.0" cy="380.0" r="8.1"/><circle cx="867.5" cy="385.0" r="8.1"/><circle cx="887.5" cy="385.0" r="8.1"/><circle cx="892.5" cy="385.0" r="8.1"/><circle cx="897.5" cy="385.0" r="8.1"/><circle cx="902.5" cy="385.0" r="8.1"/><circle cx="907.5" cy="385.0" r="8.1"/><circle cx="912.5" cy="385.0" r="8.1"/><circle cx="917.5" cy="385.0" r="8.1"/><circle cx="922.5" cy="385.0" r="8.1"/><circle cx="927.5" cy="385.0" r="8.1"/><circle cx="932.5" cy="385.0" r="8.1"/><circle cx="937.5" cy="385.0" r="8.1"/><circle cx="870.0" cy="390.0" r="8.1"/><circle cx="875.0" cy="390.0" r="8.1"/><circle cx="880.0" cy="390.0" r="8.1"/><circle cx="885.0" cy="390.0" r="8.1"/><circle cx="890.0" cy="390.0" r="8.1"/><circle cx="895.0" cy="390.0" r="8.1"/><circle cx="900.0" cy="390.0" r="8.1"/><circle cx="905.0" cy="390.0" r="8.1"/><circle cx="910.0" cy="390.0" r="8.1"/><circle cx="915.0" cy="390.0" r="8.1"/><circle cx="920.0" cy="390.0" r="8.1"/><circle cx="925.0" cy="390.0" r="8.1"/><circle cx="930.0" cy="390.0" r="8.1"/><circle cx="935.0" cy="390.0" r="8.1"/><circle cx="867.5" cy="395.0" r="8.1"/><circle cx="872.5" cy="395.0" r="8.1"/><circle cx="877.5" cy="395.0" r="8.1"/><circle cx="882.5" cy="395.0" r="8.1"/><circle cx="887.5" cy="395.0" r="8.1"/><circle cx="892.5" cy="395.0" r="8.1"/><circle cx="897.5" cy="395.0" r="8.1"/><circle cx="902.5" cy="395.0" r="8.1"/><circle cx="907.5" cy="395.0" r="8.1"/><circle cx="912.5" cy="395.0" r="8.1"/><circle cx="917.5" cy="395.0" r="8.1"/><circle cx="922.5" cy="395.0" r="8.1"/><circle cx="927.5" cy="395.0" r="8.1"/><circle cx="932.5" cy="395.0" r="8.1"/><circle cx="937.5" cy="395.0" r="8.1"/><circle cx="870.0" cy="400.0" r="8.1"/><circle cx="875.0" cy="400.0" r="8.1"/><circle cx="880.0" cy="400.0" r="8.1"/><circle cx="885.0" cy="400.0" r="8.1"/><circle cx="890.0" cy="400.0" r="8.1"/><circle cx="895.0" cy="400.0" r="8.1"/><circle cx="900.0" cy="400.0" r="8.1"/><circle cx="905.0" cy="400.0" r="8.1"/><circle cx="910.0" cy="400.0" r="8.1"/><circle cx="915.0" cy="400.0" r="8.1"/><circle cx="920.0" cy="400.0" r="8.1"/><circle cx="925.0" cy="400.0" r="8.1"/><circle cx="930.0" cy="400.0" r="8.1"/><circle cx="935.0" cy="400.0" r="8.1"/><circle cx="872.5" cy="405.0" r="8.1"/><circle cx="877.5" cy="405.0" r="8.1"/><circle cx="882.5" cy="405.0" r="8.1"/><circle cx="887.5" cy="405.0" r="8.1"/><circle cx="892.5" cy="405.0" r="8.1"/><circle cx="897.5" cy="405.0" r="8.1"/><circle cx="902.5" cy="405.0" r="8.1"/><circle cx="907.5" cy="405.0" r="8.1"/><circle cx="912.5" cy="405.0" r="8.1"/><circle cx="917.5" cy="405.0" r="8.1"/><circle cx="922.5" cy="405.0" r="8.1"/><circle cx="927.5" cy="405.0" r="8.1"/><circle cx="932.5" cy="405.0" r="8.1"/><circle cx="937.5" cy="405.0" r="8.1"/><circle cx="870.0" cy="410.0" r="8.1"/><circle cx="875.0" cy="410.0" r="8.1"/><circle cx="880.0" cy="410.0" r="8.1"/><circle cx="885.0" cy="410.0" r="8.1"/><circle cx="890.0" cy="410.0" r="8.1"/><circle cx="895.0" cy="410.0" r="8.1"/><circle cx="900.0" cy="410.0" r="8.1"/><circle cx="905.0" cy="410.0" r="8.1"/><circle cx="910.0" cy="410.0" r="8.1"/><circle cx="915.0" cy="410.0" r="8.1"/><circle cx="920.0" cy="410.0" r="8.1"/><circle cx="925.0" cy="410.0" r="8.1"/><circle cx="930.0" cy="410.0" r="8.1"/><circle cx="935.0" cy="410.0" r="8.1"/><circle cx="842.5" cy="415.0" r="8.1"/><circle cx="847.5" cy="415.0" r="8.1"/><circle cx="872.5" cy="415.0" r="8.1"/><circle cx="877.5" cy="415.0" r="8.1"/><circle cx="882.5" cy="415.0" r="8.1"/><circle cx="887.5" cy="415.0" r="8.1"/><circle cx="892.5" cy="415.0" r="8.1"/><circle cx="897.5" cy="415.0" r="8.1"/><circle cx="902.5" cy="415.0" r="8.1"/><circle cx="907.5" cy="415.0" r="8.1"/><circle cx="912.5" cy="415.0" r="8.1"/><circle cx="917.5" cy="415.0" r="8.1"/><circle cx="922.5" cy="415.0" r="8.1"/><circle cx="927.5" cy="415.0" r="8.1"/><circle cx="932.5" cy="415.0" r="8.1"/><circle cx="937.5" cy="415.0" r="8.1"/><circle cx="840.0" cy="420.0" r="8.1"/><circle cx="845.0" cy="420.0" r="8.1"/><circle cx="850.0" cy="420.0" r="8.1"/><circle cx="855.0" cy="420.0" r="8.1"/><circle cx="865.0" cy="420.0" r="8.1"/><circle cx="870.0" cy="420.0" r="8.1"/><circle cx="875.0" cy="420.0" r="8.1"/><circle cx="880.0" cy="420.0" r="8.1"/><circle cx="885.0" cy="420.0" r="8.1"/><circle cx="890.0" cy="420.0" r="8.1"/><circle cx="895.0" cy="420.0" r="8.1"/><circle cx="900.0" cy="420.0" r="8.1"/><circle cx="905.0" cy="420.0" r="8.1"/><circle cx="910.0" cy="420.0" r="8.1"/><circle cx="915.0" cy="420.0" r="8.1"/><circle cx="920.0" cy="420.0" r="8.1"/><circle cx="925.0" cy="420.0" r="8.1"/><circle cx="930.0" cy="420.0" r="8.1"/><circle cx="935.0" cy="420.0" r="8.1"/><circle cx="842.5" cy="425.0" r="8.1"/><circle cx="847.5" cy="425.0" r="8.1"/><circle cx="852.5" cy="425.0" r="8.1"/><circle cx="857.5" cy="425.0" r="8.1"/><circle cx="862.5" cy="425.0" r="8.1"/><circle cx="867.5" cy="425.0" r="8.1"/><circle cx="872.5" cy="425.0" r="8.1"/><circle cx="877.5" cy="425.0" r="8.1"/><circle cx="882.5" cy="425.0" r="8.1"/><circle cx="887.5" cy="425.0" r="8.1"/><circle cx="892.5" cy="425.0" r="8.1"/><circle cx="897.5" cy="425.0" r="8.1"/><circle cx="902.5" cy="425.0" r="8.1"/><circle cx="907.5" cy="425.0" r="8.1"/><circle cx="912.5" cy="425.0" r="8.1"/><circle cx="917.5" cy="425.0" r="8.1"/><circle cx="922.5" cy="425.0" r="8.1"/><circle cx="927.5" cy="425.0" r="8.1"/><circle cx="932.5" cy="425.0" r="8.1"/><circle cx="840.0" cy="430.0" r="8.1"/><circle cx="845.0" cy="430.0" r="8.1"/><circle cx="850.0" cy="430.0" r="8.1"/><circle cx="855.0" cy="430.0" r="8.1"/><circle cx="860.0" cy="430.0" r="8.1"/><circle cx="875.0" cy="430.0" r="8.1"/><circle cx="880.0" cy="430.0" r="8.1"/><circle cx="885.0" cy="430.0" r="8.1"/><circle cx="890.0" cy="430.0" r="8.1"/><circle cx="895.0" cy="430.0" r="8.1"/><circle cx="900.0" cy="430.0" r="8.1"/><circle cx="905.0" cy="430.0" r="8.1"/><circle cx="910.0" cy="430.0" r="8.1"/><circle cx="915.0" cy="430.0" r="8.1"/><circle cx="920.0" cy="430.0" r="8.1"/><circle cx="925.0" cy="430.0" r="8.1"/><circle cx="935.0" cy="430.0" r="8.1"/><circle cx="842.5" cy="435.0" r="8.1"/><circle cx="847.5" cy="435.0" r="8.1"/><circle cx="852.5" cy="435.0" r="8.1"/><circle cx="857.5" cy="435.0" r="8.1"/><circle cx="877.5" cy="435.0" r="8.1"/><circle cx="882.5" cy="435.0" r="8.1"/><circle cx="887.5" cy="435.0" r="8.1"/><circle cx="892.5" cy="435.0" r="8.1"/><circle cx="897.5" cy="435.0" r="8.1"/><circle cx="902.5" cy="435.0" r="8.1"/><circle cx="907.5" cy="435.0" r="8.1"/><circle cx="912.5" cy="435.0" r="8.1"/><circle cx="917.5" cy="435.0" r="8.1"/><circle cx="922.5" cy="435.0" r="8.1"/><circle cx="840.0" cy="440.0" r="8.1"/><circle cx="845.0" cy="440.0" r="8.1"/><circle cx="850.0" cy="440.0" r="8.1"/><circle cx="855.0" cy="440.0" r="8.1"/><circle cx="875.0" cy="440.0" r="8.1"/><circle cx="880.0" cy="440.0" r="8.1"/><circle cx="885.0" cy="440.0" r="8.1"/><circle cx="890.0" cy="440.0" r="8.1"/><circle cx="895.0" cy="440.0" r="8.1"/><circle cx="900.0" cy="440.0" r="8.1"/><circle cx="905.0" cy="440.0" r="8.1"/><circle cx="910.0" cy="440.0" r="8.1"/><circle cx="915.0" cy="440.0" r="8.1"/><circle cx="842.5" cy="445.0" r="8.1"/><circle cx="847.5" cy="445.0" r="8.1"/><circle cx="852.5" cy="445.0" r="8.1"/><circle cx="877.5" cy="445.0" r="8.1"/><circle cx="882.5" cy="445.0" r="8.1"/><circle cx="887.5" cy="445.0" r="8.1"/><circle cx="892.5" cy="445.0" r="8.1"/><circle cx="897.5" cy="445.0" r="8.1"/><circle cx="902.5" cy="445.0" r="8.1"/><circle cx="907.5" cy="445.0" r="8.1"/><circle cx="912.5" cy="445.0" r="8.1"/><circle cx="840.0" cy="450.0" r="8.1"/><circle cx="855.0" cy="450.0" r="8.1"/><circle cx="875.0" cy="450.0" r="8.1"/><circle cx="880.0" cy="450.0" r="8.1"/><circle cx="885.0" cy="450.0" r="8.1"/><circle cx="890.0" cy="450.0" r="8.1"/><circle cx="895.0" cy="450.0" r="8.1"/><circle cx="900.0" cy="450.0" r="8.1"/><circle cx="877.5" cy="455.0" r="8.1"/><circle cx="882.5" cy="455.0" r="8.1"/><circle cx="887.5" cy="455.0" r="8.1"/><circle cx="892.5" cy="455.0" r="8.1"/><circle cx="897.5" cy="455.0" r="8.1"/><circle cx="840.0" cy="460.0" r="8.1"/><circle cx="865.0" cy="460.0" r="8.1"/><circle cx="870.0" cy="460.0" r="8.1"/><circle cx="875.0" cy="460.0" r="8.1"/><circle cx="880.0" cy="460.0" r="8.1"/><circle cx="885.0" cy="460.0" r="8.1"/><circle cx="895.0" cy="460.0" r="8.1"/><circle cx="900.0" cy="460.0" r="8.1"/><circle cx="867.5" cy="465.0" r="8.1"/><circle cx="872.5" cy="465.0" r="8.1"/><circle cx="877.5" cy="465.0" r="8.1"/><circle cx="882.5" cy="465.0" r="8.1"/><circle cx="887.5" cy="465.0" r="8.1"/><circle cx="892.5" cy="465.0" r="8.1"/><circle cx="897.5" cy="465.0" r="8.1"/><circle cx="740.0" cy="520.0" r="8.1"/><circle cx="755.0" cy="520.0" r="8.1"/><circle cx="760.0" cy="520.0" r="8.1"/><circle cx="765.0" cy="520.0" r="8.1"/><circle cx="770.0" cy="520.0" r="8.1"/><circle cx="775.0" cy="520.0" r="8.1"/><circle cx="780.0" cy="520.0" r="8.1"/><circle cx="785.0" cy="520.0" r="8.1"/><circle cx="795.0" cy="520.0" r="8.1"/><circle cx="800.0" cy="520.0" r="8.1"/><circle cx="805.0" cy="520.0" r="8.1"/><circle cx="810.0" cy="520.0" r="8.1"/><circle cx="815.0" cy="520.0" r="8.1"/><circle cx="820.0" cy="520.0" r="8.1"/><circle cx="825.0" cy="520.0" r="8.1"/><circle cx="742.5" cy="525.0" r="8.1"/><circle cx="747.5" cy="525.0" r="8.1"/><circle cx="752.5" cy="525.0" r="8.1"/><circle cx="757.5" cy="525.0" r="8.1"/><circle cx="762.5" cy="525.0" r="8.1"/><circle cx="767.5" cy="525.0" r="8.1"/><circle cx="772.5" cy="525.0" r="8.1"/><circle cx="777.5" cy="525.0" r="8.1"/><circle cx="782.5" cy="525.0" r="8.1"/><circle cx="787.5" cy="525.0" r="8.1"/><circle cx="792.5" cy="525.0" r="8.1"/><circle cx="797.5" cy="525.0" r="8.1"/><circle cx="802.5" cy="525.0" r="8.1"/><circle cx="807.5" cy="525.0" r="8.1"/><circle cx="812.5" cy="525.0" r="8.1"/><circle cx="817.5" cy="525.0" r="8.1"/><circle cx="822.5" cy="525.0" r="8.1"/><circle cx="827.5" cy="525.0" r="8.1"/><circle cx="832.5" cy="525.0" r="8.1"/><circle cx="837.5" cy="525.0" r="8.1"/><circle cx="740.0" cy="530.0" r="8.1"/><circle cx="745.0" cy="530.0" r="8.1"/><circle cx="750.0" cy="530.0" r="8.1"/><circle cx="755.0" cy="530.0" r="8.1"/><circle cx="760.0" cy="530.0" r="8.1"/><circle cx="765.0" cy="530.0" r="8.1"/><circle cx="770.0" cy="530.0" r="8.1"/><circle cx="775.0" cy="530.0" r="8.1"/><circle cx="780.0" cy="530.0" r="8.1"/><circle cx="785.0" cy="530.0" r="8.1"/><circle cx="790.0" cy="530.0" r="8.1"/><circle cx="795.0" cy="530.0" r="8.1"/><circle cx="805.0" cy="530.0" r="8.1"/><circle cx="810.0" cy="530.0" r="8.1"/><circle cx="815.0" cy="530.0" r="8.1"/><circle cx="820.0" cy="530.0" r="8.1"/><circle cx="825.0" cy="530.0" r="8.1"/><circle cx="830.0" cy="530.0" r="8.1"/><circle cx="835.0" cy="530.0" r="8.1"/><circle cx="742.5" cy="535.0" r="8.1"/><circle cx="747.5" cy="535.0" r="8.1"/><circle cx="752.5" cy="535.0" r="8.1"/><circle cx="757.5" cy="535.0" r="8.1"/><circle cx="762.5" cy="535.0" r="8.1"/><circle cx="767.5" cy="535.0" r="8.1"/><circle cx="772.5" cy="535.0" r="8.1"/><circle cx="777.5" cy="535.0" r="8.1"/><circle cx="782.5" cy="535.0" r="8.1"/><circle cx="787.5" cy="535.0" r="8.1"/><circle cx="792.5" cy="535.0" r="8.1"/><circle cx="797.5" cy="535.0" r="8.1"/><circle cx="802.5" cy="535.0" r="8.1"/><circle cx="807.5" cy="535.0" r="8.1"/><circle cx="812.5" cy="535.0" r="8.1"/><circle cx="817.5" cy="535.0" r="8.1"/><circle cx="822.5" cy="535.0" r="8.1"/><circle cx="827.5" cy="535.0" r="8.1"/><circle cx="832.5" cy="535.0" r="8.1"/><circle cx="740.0" cy="540.0" r="8.1"/><circle cx="745.0" cy="540.0" r="8.1"/><circle cx="750.0" cy="540.0" r="8.1"/><circle cx="755.0" cy="540.0" r="8.1"/><circle cx="760.0" cy="540.0" r="8.1"/><circle cx="765.0" cy="540.0" r="8.1"/><circle cx="770.0" cy="540.0" r="8.1"/><circle cx="775.0" cy="540.0" r="8.1"/><circle cx="780.0" cy="540.0" r="8.1"/><circle cx="785.0" cy="540.0" r="8.1"/><circle cx="790.0" cy="540.0" r="8.1"/><circle cx="810.0" cy="540.0" r="8.1"/><circle cx="815.0" cy="540.0" r="8.1"/><circle cx="820.0" cy="540.0" r="8.1"/><circle cx="825.0" cy="540.0" r="8.1"/><circle cx="830.0" cy="540.0" r="8.1"/><circle cx="742.5" cy="545.0" r="8.1"/><circle cx="747.5" cy="545.0" r="8.1"/><circle cx="752.5" cy="545.0" r="8.1"/><circle cx="757.5" cy="545.0" r="8.1"/><circle cx="762.5" cy="545.0" r="8.1"/><circle cx="767.5" cy="545.0" r="8.1"/><circle cx="772.5" cy="545.0" r="8.1"/><circle cx="777.5" cy="545.0" r="8.1"/><circle cx="782.5" cy="545.0" r="8.1"/><circle cx="787.5" cy="545.0" r="8.1"/><circle cx="817.5" cy="545.0" r="8.1"/><circle cx="822.5" cy="545.0" r="8.1"/><circle cx="827.5" cy="545.0" r="8.1"/><circle cx="740.0" cy="550.0" r="8.1"/><circle cx="745.0" cy="550.0" r="8.1"/><circle cx="750.0" cy="550.0" r="8.1"/><circle cx="755.0" cy="550.0" r="8.1"/><circle cx="760.0" cy="550.0" r="8.1"/><circle cx="765.0" cy="550.0" r="8.1"/><circle cx="770.0" cy="550.0" r="8.1"/><circle cx="775.0" cy="550.0" r="8.1"/><circle cx="780.0" cy="550.0" r="8.1"/><circle cx="785.0" cy="550.0" r="8.1"/><circle cx="790.0" cy="550.0" r="8.1"/><circle cx="742.5" cy="555.0" r="8.1"/><circle cx="747.5" cy="555.0" r="8.1"/><circle cx="752.5" cy="555.0" r="8.1"/><circle cx="757.5" cy="555.0" r="8.1"/><circle cx="762.5" cy="555.0" r="8.1"/><circle cx="767.5" cy="555.0" r="8.1"/><circle cx="772.5" cy="555.0" r="8.1"/><circle cx="777.5" cy="555.0" r="8.1"/><circle cx="782.5" cy="555.0" r="8.1"/><circle cx="787.5" cy="555.0" r="8.1"/><circle cx="792.5" cy="555.0" r="8.1"/><circle cx="822.5" cy="555.0" r="8.1"/><circle cx="740.0" cy="560.0" r="8.1"/><circle cx="745.0" cy="560.0" r="8.1"/><circle cx="760.0" cy="560.0" r="8.1"/><circle cx="765.0" cy="560.0" r="8.1"/><circle cx="770.0" cy="560.0" r="8.1"/><circle cx="775.0" cy="560.0" r="8.1"/><circle cx="780.0" cy="560.0" r="8.1"/><circle cx="785.0" cy="560.0" r="8.1"/><circle cx="790.0" cy="560.0" r="8.1"/><circle cx="795.0" cy="560.0" r="8.1"/><circle cx="820.0" cy="560.0" r="8.1"/><circle cx="742.5" cy="565.0" r="8.1"/><circle cx="762.5" cy="565.0" r="8.1"/><circle cx="767.5" cy="565.0" r="8.1"/><circle cx="772.5" cy="565.0" r="8.1"/><circle cx="777.5" cy="565.0" r="8.1"/><circle cx="782.5" cy="565.0" r="8.1"/><circle cx="787.5" cy="565.0" r="8.1"/><circle cx="792.5" cy="565.0" r="8.1"/><circle cx="797.5" cy="565.0" r="8.1"/><circle cx="740.0" cy="570.0" r="8.1"/><circle cx="780.0" cy="570.0" r="8.1"/><circle cx="785.0" cy="570.0" r="8.1"/><circle cx="790.0" cy="570.0" r="8.1"/><circle cx="795.0" cy="570.0" r="8.1"/><circle cx="800.0" cy="570.0" r="8.1"/><circle cx="805.0" cy="570.0" r="8.1"/><circle cx="810.0" cy="570.0" r="8.1"/><circle cx="815.0" cy="570.0" r="8.1"/><circle cx="820.0" cy="570.0" r="8.1"/><circle cx="835.0" cy="570.0" r="8.1"/><circle cx="742.5" cy="575.0" r="8.1"/><circle cx="782.5" cy="575.0" r="8.1"/><circle cx="787.5" cy="575.0" r="8.1"/><circle cx="792.5" cy="575.0" r="8.1"/><circle cx="797.5" cy="575.0" r="8.1"/><circle cx="802.5" cy="575.0" r="8.1"/><circle cx="807.5" cy="575.0" r="8.1"/><circle cx="812.5" cy="575.0" r="8.1"/><circle cx="822.5" cy="575.0" r="8.1"/><circle cx="827.5" cy="575.0" r="8.1"/><circle cx="740.0" cy="580.0" r="8.1"/><circle cx="745.0" cy="580.0" r="8.1"/><circle cx="775.0" cy="580.0" r="8.1"/><circle cx="780.0" cy="580.0" r="8.1"/><circle cx="785.0" cy="580.0" r="8.1"/><circle cx="790.0" cy="580.0" r="8.1"/><circle cx="795.0" cy="580.0" r="8.1"/><circle cx="800.0" cy="580.0" r="8.1"/><circle cx="805.0" cy="580.0" r="8.1"/><circle cx="742.5" cy="585.0" r="8.1"/><circle cx="747.5" cy="585.0" r="8.1"/><circle cx="777.5" cy="585.0" r="8.1"/><circle cx="782.5" cy="585.0" r="8.1"/><circle cx="787.5" cy="585.0" r="8.1"/><circle cx="792.5" cy="585.0" r="8.1"/><circle cx="797.5" cy="585.0" r="8.1"/><circle cx="827.5" cy="585.0" r="8.1"/><circle cx="740.0" cy="590.0" r="8.1"/><circle cx="745.0" cy="590.0" r="8.1"/><circle cx="780.0" cy="590.0" r="8.1"/><circle cx="785.0" cy="590.0" r="8.1"/><circle cx="790.0" cy="590.0" r="8.1"/><circle cx="795.0" cy="590.0" r="8.1"/><circle cx="800.0" cy="590.0" r="8.1"/><circle cx="742.5" cy="595.0" r="8.1"/><circle cx="747.5" cy="595.0" r="8.1"/><circle cx="782.5" cy="595.0" r="8.1"/><circle cx="787.5" cy="595.0" r="8.1"/><circle cx="792.5" cy="595.0" r="8.1"/><circle cx="797.5" cy="595.0" r="8.1"/><circle cx="802.5" cy="595.0" r="8.1"/><circle cx="807.5" cy="595.0" r="8.1"/><circle cx="945.1" cy="322.1" r="8.1"/><circle cx="931.5" cy="322.6" r="8.1"/><circle cx="639.0" cy="510.0" r="8.1"/><circle cx="943.1" cy="422.9" r="8.1"/><circle cx="934.7" cy="423.5" r="8.1"/><circle cx="544.5" cy="656.6" r="8.1"/><circle cx="857.2" cy="366.2" r="8.1"/><circle cx="916.8" cy="326.3" r="8.1"/><circle cx="877.0" cy="353.2" r="8.1"/><circle cx="882.9" cy="349.2" r="8.1"/><circle cx="915.5" cy="356.8" r="8.1"/><circle cx="929.9" cy="327.4" r="8.1"/><circle cx="937.2" cy="324.8" r="8.1"/><circle cx="887.5" cy="372.4" r="8.1"/><circle cx="880.3" cy="360.9" r="8.1"/><circle cx="882.0" cy="344.6" r="8.1"/><circle cx="723.3" cy="435.7" r="8.1"/><circle cx="729.3" cy="433.2" r="8.1"/><circle cx="729.3" cy="434.5" r="8.1"/><circle cx="720.2" cy="478.6" r="8.1"/><circle cx="743.0" cy="445.4" r="8.1"/><circle cx="741.8" cy="473.3" r="8.1"/><circle cx="744.7" cy="455.1" r="8.1"/><circle cx="740.5" cy="462.1" r="8.1"/><circle cx="652.5" cy="513.3" r="8.1"/><circle cx="648.8" cy="521.8" r="8.1"/><circle cx="697.2" cy="484.5" r="8.1"/><circle cx="707.8" cy="496.7" r="8.1"/><circle cx="696.6" cy="511.7" r="8.1"/><circle cx="699.9" cy="505.0" r="8.1"/><circle cx="704.6" cy="517.5" r="8.1"/><circle cx="714.6" cy="517.7" r="8.1"/><circle cx="728.1" cy="496.9" r="8.1"/><circle cx="729.0" cy="509.1" r="8.1"/><circle cx="736.8" cy="495.8" r="8.1"/><circle cx="724.2" cy="521.8" r="8.1"/><circle cx="698.0" cy="518.0" r="8.1"/><circle cx="734.2" cy="517.7" r="8.1"/><circle cx="710.5" cy="506.0" r="8.1"/><circle cx="878.9" cy="477.4" r="8.1"/><circle cx="868.7" cy="479.4" r="8.1"/><circle cx="851.2" cy="480.9" r="8.1"/><circle cx="885.9" cy="504.6" r="8.1"/><circle cx="889.3" cy="511.6" r="8.1"/><circle cx="877.8" cy="521.7" r="8.1"/><circle cx="639.7" cy="529.6" r="8.1"/><circle cx="617.1" cy="545.8" r="8.1"/><circle cx="629.3" cy="540.7" r="8.1"/><circle cx="636.2" cy="536.9" r="8.1"/><circle cx="633.5" cy="562.4" r="8.1"/><circle cx="641.5" cy="545.6" r="8.1"/><circle cx="609.8" cy="618.6" r="8.1"/><circle cx="592.6" cy="606.4" r="8.1"/><circle cx="640.2" cy="595.1" r="8.1"/><circle cx="645.1" cy="600.7" r="8.1"/><circle cx="637.4" cy="571.9" r="8.1"/><circle cx="748.8" cy="603.1" r="8.1"/><circle cx="739.9" cy="608.5" r="8.1"/><circle cx="774.5" cy="597.7" r="8.1"/><circle cx="779.7" cy="599.0" r="8.1"/><circle cx="788.7" cy="596.6" r="8.1"/><circle cx="837.6" cy="525.8" r="8.1"/><circle cx="849.8" cy="528.7" r="8.1"/><circle cx="851.0" cy="534.7" r="8.1"/><circle cx="867.3" cy="529.8" r="8.1"/><circle cx="873.5" cy="534.8" r="8.1"/><circle cx="882.6" cy="528.1" r="8.1"/><circle cx="836.4" cy="532.1" r="8.1"/><circle cx="590.2" cy="623.4" r="8.1"/><circle cx="582.6" cy="627.9" r="8.1"/><circle cx="608.4" cy="615.9" r="8.1"/><circle cx="565.8" cy="642.5" r="8.1"/><circle cx="562.0" cy="652.5" r="8.1"/><circle cx="551.7" cy="653.5" r="8.1"/><circle cx="549.5" cy="657.0" r="8.1"/><circle cx="631.8" cy="714.3" r="8.1"/><circle cx="704.6" cy="619.8" r="8.1"/><circle cx="706.5" cy="632.3" r="8.1"/><circle cx="726.9" cy="620.0" r="8.1"/><circle cx="638.9" cy="712.2" r="8.1"/><circle cx="834.9" cy="356.1" r="8.1"/><circle cx="765.2" cy="393.7" r="8.1"/><circle cx="802.1" cy="386.4" r="8.1"/><circle cx="975.9" cy="355.0" r="8.1"/><circle cx="974.4" cy="371.0" r="8.1"/><circle cx="937.6" cy="396.9" r="8.1"/><circle cx="952.3" cy="408.5" r="8.1"/></g>
<g fill="#F8766D"><circle cx="956.2" cy="300.4" r="8.1"/><circle cx="1028.1" cy="311.5" r="8.1"/><circle cx="502.1" cy="616.9" r="8.1"/><circle cx="467.9" cy="634.0" r="8.1"/><circle cx="438.1" cy="838.1" r="8.1"/><circle cx="869.6" cy="360.8" r="8.1"/><circle cx="865.8" cy="383.3" r="8.1"/><circle cx="931.7" cy="349.2" r="8.1"/><circle cx="935.8" cy="360.0" r="8.1"/><circle cx="919.2" cy="361.7" r="8.1"/><circle cx="927.5" cy="366.7" r="8.1"/><circle cx="903.3" cy="373.3" r="8.1"/><circle cx="915.0" cy="386.7" r="8.1"/><circle cx="869.2" cy="415.8" r="8.1"/><circle cx="828.8" cy="441.7" r="8.1"/><circle cx="803.3" cy="459.2" r="8.1"/><circle cx="825.8" cy="466.7" r="8.1"/><circle cx="745.0" cy="492.5" r="8.1"/><circle cx="839.2" cy="455.8" r="8.1"/><circle cx="835.8" cy="470.0" r="8.1"/><circle cx="838.3" cy="478.3" r="8.1"/><circle cx="827.5" cy="486.7" r="8.1"/><circle cx="831.7" cy="495.0" r="8.1"/><circle cx="815.0" cy="511.7" r="8.1"/><circle cx="823.3" cy="503.3" r="8.1"/><circle cx="760.0" cy="515.8" r="8.1"/><circle cx="741.7" cy="512.5" r="8.1"/><circle cx="875.0" cy="440.0" r="8.1"/><circle cx="890.8" cy="439.2" r="8.1"/><circle cx="913.3" cy="445.0" r="8.1"/><circle cx="923.3" cy="438.8" r="8.1"/><circle cx="902.5" cy="458.3" r="8.1"/><circle cx="879.2" cy="469.2" r="8.1"/><circle cx="932.5" cy="470.0" r="8.1"/><circle cx="857.5" cy="429.2" r="8.1"/><circle cx="617.1" cy="530.8" r="8.1"/><circle cx="685.0" cy="557.5" r="8.1"/><circle cx="680.0" cy="566.7" r="8.1"/><circle cx="719.2" cy="547.5" r="8.1"/><circle cx="713.3" cy="556.7" r="8.1"/><circle cx="645.0" cy="571.7" r="8.1"/><circle cx="713.3" cy="586.7" r="8.1"/><circle cx="698.3" cy="593.3" r="8.1"/><circle cx="646.7" cy="608.3" r="8.1"/><circle cx="643.3" cy="615.8" r="8.1"/><circle cx="683.3" cy="610.0" r="8.1"/><circle cx="705.0" cy="614.2" r="8.1"/><circle cx="715.0" cy="615.8" r="8.1"/><circle cx="723.3" cy="614.2" r="8.1"/><circle cx="731.7" cy="574.2" r="8.1"/><circle cx="818.3" cy="537.9" r="8.1"/><circle cx="813.3" cy="545.8" r="8.1"/><circle cx="758.8" cy="559.2" r="8.1"/><circle cx="749.2" cy="563.3" r="8.1"/><circle cx="786.7" cy="560.8" r="8.1"/><circle cx="775.0" cy="581.7" r="8.1"/><circle cx="786.7" cy="578.3" r="8.1"/><circle cx="794.2" cy="586.7" r="8.1"/><circle cx="798.3" cy="574.2" r="8.1"/><circle cx="806.7" cy="570.0" r="8.1"/><circle cx="815.0" cy="566.7" r="8.1"/><circle cx="819.2" cy="557.5" r="8.1"/><circle cx="823.3" cy="573.3" r="8.1"/><circle cx="831.7" cy="568.3" r="8.1"/><circle cx="828.3" cy="586.7" r="8.1"/><circle cx="836.7" cy="564.2" r="8.1"/><circle cx="786.7" cy="593.3" r="8.1"/><circle cx="775.8" cy="565.0" r="8.1"/><circle cx="745.8" cy="586.7" r="8.1"/><circle cx="784.2" cy="531.7" r="8.1"/><circle cx="887.9" cy="526.7" r="8.1"/><circle cx="884.2" cy="537.9" r="8.1"/><circle cx="890.0" cy="535.8" r="8.1"/><circle cx="567.5" cy="625.8" r="8.1"/><circle cx="575.0" cy="633.3" r="8.1"/><circle cx="583.3" cy="642.5" r="8.1"/><circle cx="586.7" cy="650.0" r="8.1"/><circle cx="556.7" cy="658.3" r="8.1"/><circle cx="550.0" cy="668.3" r="8.1"/><circle cx="573.3" cy="658.3" r="8.1"/><circle cx="583.3" cy="655.8" r="8.1"/><circle cx="608.3" cy="629.2" r="8.1"/><circle cx="617.5" cy="626.7" r="8.1"/><circle cx="624.2" cy="625.0" r="8.1"/><circle cx="610.8" cy="636.7" r="8.1"/><circle cx="664.2" cy="631.2" r="8.1"/><circle cx="673.3" cy="630.8" r="8.1"/><circle cx="689.2" cy="628.3" r="8.1"/><circle cx="711.7" cy="630.8" r="8.1"/><circle cx="707.5" cy="647.5" r="8.1"/><circle cx="707.1" cy="656.7" r="8.1"/><circle cx="731.7" cy="698.3" r="8.1"/><circle cx="655.8" cy="700.8" r="8.1"/><circle cx="728.3" cy="620.0" r="8.1"/><circle cx="737.5" cy="574.2" r="8.1"/><circle cx="926.7" cy="372.5" r="8.1"/><circle cx="805.0" cy="580.0" r="8.1"/><circle cx="813.3" cy="576.7" r="8.1"/><circle cx="781.7" cy="586.7" r="8.1"/><circle cx="821.7" cy="564.2" r="8.1"/><circle cx="811.7" cy="553.3" r="8.1"/><circle cx="952.8" cy="295.4" r="8.1"/><circle cx="870.5" cy="366.8" r="8.1"/><circle cx="936.8" cy="352.3" r="8.1"/><circle cx="933.3" cy="365.4" r="8.1"/><circle cx="917.1" cy="367.3" r="8.1"/><circle cx="924.7" cy="372.0" r="8.1"/><circle cx="622.9" cy="532.2" r="8.1"/><circle cx="883.4" cy="522.7" r="8.1"/><circle cx="881.4" cy="532.6" r="8.1"/><circle cx="884.9" cy="532.7" r="8.1"/><circle cx="578.9" cy="637.9" r="8.1"/><circle cx="577.6" cy="640.6" r="8.1"/><circle cx="551.2" cy="656.0" r="8.1"/><circle cx="552.9" cy="663.1" r="8.1"/><circle cx="568.4" cy="654.9" r="8.1"/><circle cx="618.3" cy="620.7" r="8.1"/><circle cx="626.7" cy="619.6" r="8.1"/><circle cx="611.2" cy="630.7" r="8.1"/><circle cx="663.9" cy="625.3" r="8.1"/><circle cx="672.3" cy="624.9" r="8.1"/><circle cx="687.2" cy="622.7" r="8.1"/><circle cx="713.7" cy="625.2" r="8.1"/><circle cx="726.1" cy="614.4" r="8.1"/></g>
<g fill="#00BFC4"><circle cx="1107.9" cy="332.0" r="8.1"/><circle cx="441.9" cy="745.0" r="8.1"/><circle cx="914.6" cy="497.9" r="8.1"/><circle cx="624.2" cy="605.8" r="8.1"/><circle cx="837.5" cy="495.0" r="8.1"/><circle cx="835.0" cy="510.0" r="8.1"/><circle cx="827.5" cy="515.0" r="8.1"/><circle cx="831.7" cy="519.9" r="8.1"/><circle cx="749.2" cy="519.2" r="8.1"/><circle cx="695.0" cy="600.0" r="8.1"/><circle cx="717.5" cy="605.0" r="8.1"/><circle cx="672.5" cy="615.0" r="8.1"/><circle cx="915.0" cy="370.0" r="8.1"/><circle cx="930.0" cy="430.0" r="8.1"/><circle cx="862.5" cy="455.0" r="8.1"/><circle cx="890.0" cy="460.0" r="8.1"/><circle cx="842.5" cy="465.0" r="8.1"/><circle cx="790.0" cy="520.0" r="8.1"/><circle cx="800.0" cy="530.0" r="8.1"/><circle cx="911.6" cy="503.1" r="8.1"/><circle cx="630.0" cy="607.4" r="8.1"/></g>
<path d="M206.0 918.9L233.6 899.9L261.2 880.9L288.8 861.9L316.4 842.9L344.0 823.9L371.6 804.9L399.2 785.8L426.8 766.8L454.4 747.7L482.0 728.7L509.6 709.6L537.2 690.5L564.8 671.4L592.4 652.2L620.0 633.0L647.6 613.8L675.2 594.5L702.8 575.2L730.4 555.8L758.0 536.3L785.6 516.8L813.2 497.1L840.8 477.4L868.4 457.5L896.0 437.6L923.6 417.6L951.2 397.6L978.8 377.4L1006.4 357.3L1034.0 337.1L1061.6 316.8L1089.2 296.6L1116.8 276.3L1144.4 256.0L1172.0 235.6L1199.6 215.3L1227.2 195.0L1254.8 174.6L1282.4 154.2L1310.0 133.9L1310.0 163.3L1282.4 182.4L1254.8 201.4L1227.2 220.4L1199.6 239.5L1172.0 258.5L1144.4 277.6L1116.8 296.7L1089.2 315.8L1061.6 334.9L1034.0 354.0L1006.4 373.2L978.8 392.4L951.2 411.7L923.6 431.0L896.0 450.4L868.4 469.9L840.8 489.5L813.2 509.1L785.6 528.9L758.0 548.7L730.4 568.6L702.8 588.6L675.2 608.7L647.6 628.8L620.0 648.9L592.4 669.1L564.8 689.4L537.2 709.6L509.6 729.9L482.0 750.2L454.4 770.6L426.8 790.9L399.2 811.2L371.6 831.6L344.0 852.0L316.4 872.3L288.8 892.7L261.2 913.1L233.6 933.5L206.0 953.9Z" fill="#999999" fill-opacity="0.4"/>
<path d="M206 936.4L1310 148.6" stroke="#F8766D" stroke-width="6.8" fill="none"/>
<path d="M359.2 713.2L377.9 703.0L396.6 692.7L415.4 682.4L434.1 672.1L452.8 661.8L471.5 651.5L490.3 641.2L509.0 630.9L527.7 620.6L546.5 610.2L565.2 599.9L583.9 589.5L602.6 579.1L621.3 568.7L640.1 558.3L658.8 547.8L677.5 537.2L696.2 526.6L715.0 515.9L733.7 505.0L752.4 494.0L771.1 482.8L789.9 471.5L808.6 460.1L827.3 448.6L846.0 436.9L864.8 425.3L883.5 413.5L902.2 401.7L921.0 389.9L939.7 378.1L958.4 366.2L977.1 354.3L995.8 342.5L1014.6 330.6L1033.3 318.7L1052.0 306.8L1070.8 294.8L1089.5 282.9L1108.2 271.0L1108.2 304.6L1089.5 314.9L1070.8 325.2L1052.0 335.5L1033.3 345.8L1014.6 356.1L995.8 366.4L977.1 376.7L958.4 387.1L939.7 397.4L921.0 407.8L902.2 418.2L883.5 428.6L864.8 439.1L846.0 449.6L827.3 460.2L808.6 470.9L789.9 481.6L771.1 492.5L752.4 503.6L733.7 514.8L715.0 526.2L696.2 537.6L677.5 549.2L658.8 560.9L640.1 572.6L621.3 584.3L602.6 596.1L583.9 608.0L565.2 619.8L546.5 631.7L527.7 643.5L509.0 655.4L490.3 667.3L471.5 679.2L452.8 691.1L434.1 703.0L415.4 715.0L396.6 726.9L377.9 738.8L359.2 750.8Z" fill="#999999" fill-opacity="0.4"/>
<path d="M359.2 732.0L1108.2 287.8" stroke="#00BFC4" stroke-width="6.8" fill="none"/>
<g stroke="#333" stroke-width="4.4" fill="none"><path d="M140 1048.05H151"/><path d="M140 829.24H151"/><path d="M140 610.43H151"/><path d="M140 391.62H151"/><path d="M140 172.81H151"/><path d="M411.66 1066.75V1077.75"/><path d="M771.00 1066.75V1077.75"/><path d="M1130.34 1066.75V1077.75"/></g>
<g font-size="38" fill="#4D4D4D"><text x="130.6" y="1063.1" text-anchor="end">-20</text><text x="130.6" y="844.3" text-anchor="end">-10</text><text x="130.6" y="625.5" text-anchor="end">0</text><text x="130.6" y="406.7" text-anchor="end">10</text><text x="130.6" y="187.9" text-anchor="end">20</text><text x="411.7" y="1116" text-anchor="middle">-2</text><text x="771.0" y="1116" text-anchor="middle">0</text><text x="1130.3" y="1116" text-anchor="middle">2</text></g>
<text x="758" y="1169" text-anchor="middle" font-size="47.5" fill="#000">x1</text>
<text transform="translate(57.3,545) rotate(-90)" text-anchor="middle" font-size="45.83" fill="#000">y</text>
<text x="1434" y="477.5" font-size="46.9" fill="#000">group</text>
<rect x="1434" y="505" width="72" height="144" fill="#F2F2F2"/>
<circle cx="1470" cy="541" r="8.1" fill="#F8766D"/>
<rect x="1434" y="505" width="72" height="72" fill="#999999" fill-opacity="0.4"/>
<path d="M1441.2 541H1498.8" stroke="#F8766D" stroke-width="8"/>
<text x="1528.5" y="555.5" font-size="38" fill="#000">A</text>
<circle cx="1470" cy="613" r="8.1" fill="#00BFC4"/>
<rect x="1434" y="577" width="72" height="72" fill="#999999" fill-opacity="0.4"/>
<path d="M1441.2 613H1498.8" stroke="#00BFC4" stroke-width="8"/>
<text x="1528.5" y="627.5" font-size="38" fill="#000">B</text>
</svg>
</body></html>
